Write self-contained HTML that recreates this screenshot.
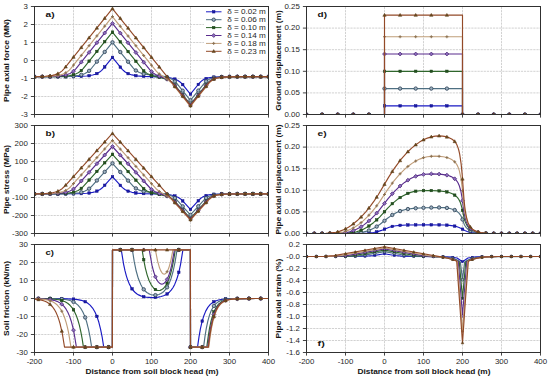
<!DOCTYPE html>
<html><head><meta charset="utf-8"><style>
*{margin:0;padding:0}
html,body{width:550px;height:379px;background:#fff;overflow:hidden}
svg{display:block}
text{font-family:"Liberation Sans",sans-serif}
.tx{fill:#262626}
.lb{font-weight:bold;fill:#141414}
.gr{stroke:#cdcdcd;stroke-width:0.9;stroke-dasharray:2.2,0.9}
.tk{stroke:#303030;stroke-width:0.9}
.fr{fill:none;stroke:#303030;stroke-width:1}
</style></head>
<body><svg width="550" height="379" viewBox="0 0 550 379">
<defs><clipPath id="ca"><rect x="34" y="6" width="235" height="109"/></clipPath><clipPath id="cb"><rect x="34" y="125" width="235" height="109"/></clipPath><clipPath id="cc"><rect x="34" y="244" width="235" height="109"/></clipPath><clipPath id="cd"><rect x="306" y="6" width="235" height="109"/></clipPath><clipPath id="ce"><rect x="306" y="125" width="235" height="109"/></clipPath><clipPath id="cf"><rect x="306" y="244" width="235" height="109"/></clipPath></defs>
<rect width="550" height="379" fill="#fff"/>
<line x1="73.5" y1="7" x2="73.5" y2="114" class="gr"/>
<line x1="112.5" y1="7" x2="112.5" y2="114" class="gr"/>
<line x1="151.5" y1="7" x2="151.5" y2="114" class="gr"/>
<line x1="190.5" y1="7" x2="190.5" y2="114" class="gr"/>
<line x1="229.5" y1="7" x2="229.5" y2="114" class="gr"/>
<line x1="35" y1="24.5" x2="268" y2="24.5" class="gr"/>
<line x1="35" y1="42.5" x2="268" y2="42.5" class="gr"/>
<line x1="35" y1="60.5" x2="268" y2="60.5" class="gr"/>
<line x1="35" y1="78.5" x2="268" y2="78.5" class="gr"/>
<line x1="35" y1="96.5" x2="268" y2="96.5" class="gr"/>
<line x1="73.5" y1="126" x2="73.5" y2="233" class="gr"/>
<line x1="112.5" y1="126" x2="112.5" y2="233" class="gr"/>
<line x1="151.5" y1="126" x2="151.5" y2="233" class="gr"/>
<line x1="190.5" y1="126" x2="190.5" y2="233" class="gr"/>
<line x1="229.5" y1="126" x2="229.5" y2="233" class="gr"/>
<line x1="35" y1="143.5" x2="268" y2="143.5" class="gr"/>
<line x1="35" y1="161.5" x2="268" y2="161.5" class="gr"/>
<line x1="35" y1="179.5" x2="268" y2="179.5" class="gr"/>
<line x1="35" y1="197.5" x2="268" y2="197.5" class="gr"/>
<line x1="35" y1="215.5" x2="268" y2="215.5" class="gr"/>
<line x1="73.5" y1="245" x2="73.5" y2="352" class="gr"/>
<line x1="112.5" y1="245" x2="112.5" y2="352" class="gr"/>
<line x1="151.5" y1="245" x2="151.5" y2="352" class="gr"/>
<line x1="190.5" y1="245" x2="190.5" y2="352" class="gr"/>
<line x1="229.5" y1="245" x2="229.5" y2="352" class="gr"/>
<line x1="35" y1="262.5" x2="268" y2="262.5" class="gr"/>
<line x1="35" y1="280.5" x2="268" y2="280.5" class="gr"/>
<line x1="35" y1="298.5" x2="268" y2="298.5" class="gr"/>
<line x1="35" y1="316.5" x2="268" y2="316.5" class="gr"/>
<line x1="35" y1="334.5" x2="268" y2="334.5" class="gr"/>
<line x1="345.5" y1="7" x2="345.5" y2="114" class="gr"/>
<line x1="384.5" y1="7" x2="384.5" y2="114" class="gr"/>
<line x1="423.5" y1="7" x2="423.5" y2="114" class="gr"/>
<line x1="462.5" y1="7" x2="462.5" y2="114" class="gr"/>
<line x1="501.5" y1="7" x2="501.5" y2="114" class="gr"/>
<line x1="307" y1="28.1" x2="540" y2="28.1" class="gr"/>
<line x1="307" y1="49.7" x2="540" y2="49.7" class="gr"/>
<line x1="307" y1="71.3" x2="540" y2="71.3" class="gr"/>
<line x1="307" y1="92.9" x2="540" y2="92.9" class="gr"/>
<line x1="345.5" y1="126" x2="345.5" y2="233" class="gr"/>
<line x1="384.5" y1="126" x2="384.5" y2="233" class="gr"/>
<line x1="423.5" y1="126" x2="423.5" y2="233" class="gr"/>
<line x1="462.5" y1="126" x2="462.5" y2="233" class="gr"/>
<line x1="501.5" y1="126" x2="501.5" y2="233" class="gr"/>
<line x1="307" y1="147.1" x2="540" y2="147.1" class="gr"/>
<line x1="307" y1="168.7" x2="540" y2="168.7" class="gr"/>
<line x1="307" y1="190.3" x2="540" y2="190.3" class="gr"/>
<line x1="307" y1="211.9" x2="540" y2="211.9" class="gr"/>
<line x1="345.5" y1="245" x2="345.5" y2="352" class="gr"/>
<line x1="384.5" y1="245" x2="384.5" y2="352" class="gr"/>
<line x1="423.5" y1="245" x2="423.5" y2="352" class="gr"/>
<line x1="462.5" y1="245" x2="462.5" y2="352" class="gr"/>
<line x1="501.5" y1="245" x2="501.5" y2="352" class="gr"/>
<line x1="307" y1="256.5" x2="540" y2="256.5" class="gr"/>
<line x1="307" y1="268.5" x2="540" y2="268.5" class="gr"/>
<line x1="307" y1="280.5" x2="540" y2="280.5" class="gr"/>
<line x1="307" y1="292.5" x2="540" y2="292.5" class="gr"/>
<line x1="307" y1="304.5" x2="540" y2="304.5" class="gr"/>
<line x1="307" y1="316.5" x2="540" y2="316.5" class="gr"/>
<line x1="307" y1="328.5" x2="540" y2="328.5" class="gr"/>
<line x1="307" y1="340.5" x2="540" y2="340.5" class="gr"/>
<g clip-path="url(#ca)">
<polyline points="34.5,76.7 78.08,76.5 86.66,76 92.71,75.01 95.24,74.25 97.58,73.24 99.63,72.03 101.48,70.58 103.53,68.43 112.4,57.38 122.45,69.65 124.88,71.78 127.71,73.45 131.9,74.92 137.17,75.83 143.7,76.32 164.47,77.08 169.83,77.72 174.12,78.77 177.92,80.48 181.04,82.83 182.7,84.6 190.4,94.19 199.28,83.26 200.84,81.62 202.49,80.31 204.25,79.3 206.2,78.5 208.44,77.88 213.71,77.11 221.5,76.75 268.5,76.64" fill="none" stroke="#1a1ac4" stroke-width="1.15" stroke-linejoin="round"/>
<rect x="33.25" y="75.45" width="2.5" height="2.5" fill="#1a1aa8" stroke="#10108a" stroke-width="0.5"/>
<rect x="41.05" y="75.45" width="2.5" height="2.5" fill="#1a1aa8" stroke="#10108a" stroke-width="0.5"/>
<rect x="48.85" y="75.45" width="2.5" height="2.5" fill="#1a1aa8" stroke="#10108a" stroke-width="0.5"/>
<rect x="56.65" y="75.44" width="2.5" height="2.5" fill="#1a1aa8" stroke="#10108a" stroke-width="0.5"/>
<rect x="64.45" y="75.42" width="2.5" height="2.5" fill="#1a1aa8" stroke="#10108a" stroke-width="0.5"/>
<rect x="72.25" y="75.35" width="2.5" height="2.5" fill="#1a1aa8" stroke="#10108a" stroke-width="0.5"/>
<rect x="80.05" y="75.13" width="2.5" height="2.5" fill="#1a1aa8" stroke="#10108a" stroke-width="0.5"/>
<rect x="87.85" y="74.45" width="2.5" height="2.5" fill="#1a1aa8" stroke="#10108a" stroke-width="0.5"/>
<rect x="95.65" y="72.32" width="2.5" height="2.5" fill="#1a1aa8" stroke="#10108a" stroke-width="0.5"/>
<rect x="103.45" y="65.73" width="2.5" height="2.5" fill="#1a1aa8" stroke="#10108a" stroke-width="0.5"/>
<rect x="111.25" y="56.13" width="2.5" height="2.5" fill="#1a1aa8" stroke="#10108a" stroke-width="0.5"/>
<rect x="119.05" y="65.85" width="2.5" height="2.5" fill="#1a1aa8" stroke="#10108a" stroke-width="0.5"/>
<rect x="126.85" y="72.38" width="2.5" height="2.5" fill="#1a1aa8" stroke="#10108a" stroke-width="0.5"/>
<rect x="134.65" y="74.42" width="2.5" height="2.5" fill="#1a1aa8" stroke="#10108a" stroke-width="0.5"/>
<rect x="142.45" y="75.07" width="2.5" height="2.5" fill="#1a1aa8" stroke="#10108a" stroke-width="0.5"/>
<rect x="150.25" y="75.31" width="2.5" height="2.5" fill="#1a1aa8" stroke="#10108a" stroke-width="0.5"/>
<rect x="158.05" y="75.54" width="2.5" height="2.5" fill="#1a1aa8" stroke="#10108a" stroke-width="0.5"/>
<rect x="165.85" y="76.08" width="2.5" height="2.5" fill="#1a1aa8" stroke="#10108a" stroke-width="0.5"/>
<rect x="173.65" y="77.8" width="2.5" height="2.5" fill="#1a1aa8" stroke="#10108a" stroke-width="0.5"/>
<rect x="181.45" y="83.35" width="2.5" height="2.5" fill="#1a1aa8" stroke="#10108a" stroke-width="0.5"/>
<rect x="189.25" y="92.94" width="2.5" height="2.5" fill="#1a1aa8" stroke="#10108a" stroke-width="0.5"/>
<rect x="197.05" y="83.22" width="2.5" height="2.5" fill="#1a1aa8" stroke="#10108a" stroke-width="0.5"/>
<rect x="204.85" y="77.29" width="2.5" height="2.5" fill="#1a1aa8" stroke="#10108a" stroke-width="0.5"/>
<rect x="212.65" y="75.84" width="2.5" height="2.5" fill="#1a1aa8" stroke="#10108a" stroke-width="0.5"/>
<rect x="220.45" y="75.5" width="2.5" height="2.5" fill="#1a1aa8" stroke="#10108a" stroke-width="0.5"/>
<rect x="228.25" y="75.42" width="2.5" height="2.5" fill="#1a1aa8" stroke="#10108a" stroke-width="0.5"/>
<rect x="236.05" y="75.4" width="2.5" height="2.5" fill="#1a1aa8" stroke="#10108a" stroke-width="0.5"/>
<rect x="243.85" y="75.39" width="2.5" height="2.5" fill="#1a1aa8" stroke="#10108a" stroke-width="0.5"/>
<rect x="251.65" y="75.39" width="2.5" height="2.5" fill="#1a1aa8" stroke="#10108a" stroke-width="0.5"/>
<rect x="259.45" y="75.39" width="2.5" height="2.5" fill="#1a1aa8" stroke="#10108a" stroke-width="0.5"/>
<rect x="267.25" y="75.39" width="2.5" height="2.5" fill="#1a1aa8" stroke="#10108a" stroke-width="0.5"/>
<polyline points="34.5,76.7 59.46,76.63 70.97,76.29 75.25,75.93 78.86,75.39 81.89,74.66 84.52,73.7 88.03,71.69 90.95,69.01 112.4,42.32 132.68,67.46 134.14,69.03 135.8,70.43 139.31,72.48 143.6,73.89 148.67,74.76 159.4,75.8 163.78,76.41 167.98,77.43 171.49,78.93 174.12,80.69 176.36,82.84 190.4,100.3 205.03,82.31 206.49,80.97 208.05,79.9 209.81,79 211.75,78.29 216.92,77.28 224.53,76.8 268.5,76.64" fill="none" stroke="#4e6f82" stroke-width="1.15" stroke-linejoin="round"/>
<circle cx="34.5" cy="76.7" r="1.7" fill="#9cb0c0" stroke="#34485c" stroke-width="0.9"/>
<circle cx="42.3" cy="76.7" r="1.7" fill="#9cb0c0" stroke="#34485c" stroke-width="0.9"/>
<circle cx="50.1" cy="76.68" r="1.7" fill="#9cb0c0" stroke="#34485c" stroke-width="0.9"/>
<circle cx="57.9" cy="76.64" r="1.7" fill="#9cb0c0" stroke="#34485c" stroke-width="0.9"/>
<circle cx="65.7" cy="76.51" r="1.7" fill="#9cb0c0" stroke="#34485c" stroke-width="0.9"/>
<circle cx="73.5" cy="76.11" r="1.7" fill="#9cb0c0" stroke="#34485c" stroke-width="0.9"/>
<circle cx="81.3" cy="74.83" r="1.7" fill="#9cb0c0" stroke="#34485c" stroke-width="0.9"/>
<circle cx="89.1" cy="70.84" r="1.7" fill="#9cb0c0" stroke="#34485c" stroke-width="0.9"/>
<circle cx="96.9" cy="61.64" r="1.7" fill="#9cb0c0" stroke="#34485c" stroke-width="0.9"/>
<circle cx="104.7" cy="51.92" r="1.7" fill="#9cb0c0" stroke="#34485c" stroke-width="0.9"/>
<circle cx="112.5" cy="42.32" r="1.7" fill="#9cb0c0" stroke="#34485c" stroke-width="0.9"/>
<circle cx="120.3" cy="52.04" r="1.7" fill="#9cb0c0" stroke="#34485c" stroke-width="0.9"/>
<circle cx="128.1" cy="61.76" r="1.7" fill="#9cb0c0" stroke="#34485c" stroke-width="0.9"/>
<circle cx="135.9" cy="70.51" r="1.7" fill="#9cb0c0" stroke="#34485c" stroke-width="0.9"/>
<circle cx="143.7" cy="73.91" r="1.7" fill="#9cb0c0" stroke="#34485c" stroke-width="0.9"/>
<circle cx="151.5" cy="75.07" r="1.7" fill="#9cb0c0" stroke="#34485c" stroke-width="0.9"/>
<circle cx="159.3" cy="75.78" r="1.7" fill="#9cb0c0" stroke="#34485c" stroke-width="0.9"/>
<circle cx="167.1" cy="77.17" r="1.7" fill="#9cb0c0" stroke="#34485c" stroke-width="0.9"/>
<circle cx="174.9" cy="81.36" r="1.7" fill="#9cb0c0" stroke="#34485c" stroke-width="0.9"/>
<circle cx="182.7" cy="90.7" r="1.7" fill="#9cb0c0" stroke="#34485c" stroke-width="0.9"/>
<circle cx="190.5" cy="100.3" r="1.7" fill="#9cb0c0" stroke="#34485c" stroke-width="0.9"/>
<circle cx="198.3" cy="90.58" r="1.7" fill="#9cb0c0" stroke="#34485c" stroke-width="0.9"/>
<circle cx="206.1" cy="81.3" r="1.7" fill="#9cb0c0" stroke="#34485c" stroke-width="0.9"/>
<circle cx="213.9" cy="77.76" r="1.7" fill="#9cb0c0" stroke="#34485c" stroke-width="0.9"/>
<circle cx="221.7" cy="76.91" r="1.7" fill="#9cb0c0" stroke="#34485c" stroke-width="0.9"/>
<circle cx="229.5" cy="76.7" r="1.7" fill="#9cb0c0" stroke="#34485c" stroke-width="0.9"/>
<circle cx="237.3" cy="76.65" r="1.7" fill="#9cb0c0" stroke="#34485c" stroke-width="0.9"/>
<circle cx="245.1" cy="76.64" r="1.7" fill="#9cb0c0" stroke="#34485c" stroke-width="0.9"/>
<circle cx="252.9" cy="76.64" r="1.7" fill="#9cb0c0" stroke="#34485c" stroke-width="0.9"/>
<circle cx="260.7" cy="76.64" r="1.7" fill="#9cb0c0" stroke="#34485c" stroke-width="0.9"/>
<circle cx="268.5" cy="76.64" r="1.7" fill="#9cb0c0" stroke="#34485c" stroke-width="0.9"/>
<polyline points="34.5,76.7 55.07,76.57 65.5,76.09 69.5,75.6 72.82,74.91 75.65,73.99 78.18,72.77 80.81,70.92 83.15,68.56 112.4,32.12 142.24,69.17 144.19,71.27 147.01,73.41 150.43,75.09 154.23,76.27 165.44,78.88 168.76,80.19 171.49,81.82 173.24,83.25 174.9,84.99 190.4,104.3 207.95,82.6 210.78,80.19 214.09,78.58 216.44,77.9 219.26,77.39 226.67,76.83 268.5,76.64" fill="none" stroke="#2f662c" stroke-width="1.15" stroke-linejoin="round"/>
<rect x="33.25" y="75.45" width="2.5" height="2.5" fill="#23501f" stroke="#1c4518" stroke-width="0.5"/>
<rect x="41.05" y="75.44" width="2.5" height="2.5" fill="#23501f" stroke="#1c4518" stroke-width="0.5"/>
<rect x="48.85" y="75.39" width="2.5" height="2.5" fill="#23501f" stroke="#1c4518" stroke-width="0.5"/>
<rect x="56.65" y="75.26" width="2.5" height="2.5" fill="#23501f" stroke="#1c4518" stroke-width="0.5"/>
<rect x="64.45" y="74.82" width="2.5" height="2.5" fill="#23501f" stroke="#1c4518" stroke-width="0.5"/>
<rect x="72.25" y="73.48" width="2.5" height="2.5" fill="#23501f" stroke="#1c4518" stroke-width="0.5"/>
<rect x="80.05" y="69.25" width="2.5" height="2.5" fill="#23501f" stroke="#1c4518" stroke-width="0.5"/>
<rect x="87.85" y="59.9" width="2.5" height="2.5" fill="#23501f" stroke="#1c4518" stroke-width="0.5"/>
<rect x="95.65" y="50.18" width="2.5" height="2.5" fill="#23501f" stroke="#1c4518" stroke-width="0.5"/>
<rect x="103.45" y="40.46" width="2.5" height="2.5" fill="#23501f" stroke="#1c4518" stroke-width="0.5"/>
<rect x="111.25" y="30.87" width="2.5" height="2.5" fill="#23501f" stroke="#1c4518" stroke-width="0.5"/>
<rect x="119.05" y="40.59" width="2.5" height="2.5" fill="#23501f" stroke="#1c4518" stroke-width="0.5"/>
<rect x="126.85" y="50.31" width="2.5" height="2.5" fill="#23501f" stroke="#1c4518" stroke-width="0.5"/>
<rect x="134.65" y="60.03" width="2.5" height="2.5" fill="#23501f" stroke="#1c4518" stroke-width="0.5"/>
<rect x="142.45" y="69.55" width="2.5" height="2.5" fill="#23501f" stroke="#1c4518" stroke-width="0.5"/>
<rect x="150.25" y="74.22" width="2.5" height="2.5" fill="#23501f" stroke="#1c4518" stroke-width="0.5"/>
<rect x="158.05" y="76.13" width="2.5" height="2.5" fill="#23501f" stroke="#1c4518" stroke-width="0.5"/>
<rect x="165.85" y="78.22" width="2.5" height="2.5" fill="#23501f" stroke="#1c4518" stroke-width="0.5"/>
<rect x="173.65" y="83.74" width="2.5" height="2.5" fill="#23501f" stroke="#1c4518" stroke-width="0.5"/>
<rect x="181.45" y="93.45" width="2.5" height="2.5" fill="#23501f" stroke="#1c4518" stroke-width="0.5"/>
<rect x="189.25" y="103.05" width="2.5" height="2.5" fill="#23501f" stroke="#1c4518" stroke-width="0.5"/>
<rect x="197.05" y="93.33" width="2.5" height="2.5" fill="#23501f" stroke="#1c4518" stroke-width="0.5"/>
<rect x="204.85" y="83.61" width="2.5" height="2.5" fill="#23501f" stroke="#1c4518" stroke-width="0.5"/>
<rect x="212.65" y="77.4" width="2.5" height="2.5" fill="#23501f" stroke="#1c4518" stroke-width="0.5"/>
<rect x="220.45" y="75.87" width="2.5" height="2.5" fill="#23501f" stroke="#1c4518" stroke-width="0.5"/>
<rect x="228.25" y="75.5" width="2.5" height="2.5" fill="#23501f" stroke="#1c4518" stroke-width="0.5"/>
<rect x="236.05" y="75.42" width="2.5" height="2.5" fill="#23501f" stroke="#1c4518" stroke-width="0.5"/>
<rect x="243.85" y="75.4" width="2.5" height="2.5" fill="#23501f" stroke="#1c4518" stroke-width="0.5"/>
<rect x="251.65" y="75.39" width="2.5" height="2.5" fill="#23501f" stroke="#1c4518" stroke-width="0.5"/>
<rect x="259.45" y="75.39" width="2.5" height="2.5" fill="#23501f" stroke="#1c4518" stroke-width="0.5"/>
<rect x="267.25" y="75.39" width="2.5" height="2.5" fill="#23501f" stroke="#1c4518" stroke-width="0.5"/>
<polyline points="34.5,76.7 51.27,76.5 60.63,75.88 64.24,75.29 67.26,74.5 69.99,73.41 72.33,72.05 74.38,70.42 76.23,68.45 112.4,23.38 150.53,70.64 152.87,72.73 155.5,74.44 158.42,75.83 167,79.25 169.54,80.66 171.78,82.34 174.22,84.86 190.4,105.03 208.54,82.61 211.27,80.26 214.58,78.61 216.92,77.92 219.65,77.42 227.06,76.84 238.18,76.67 268.5,76.64" fill="none" stroke="#5a2d8e" stroke-width="1.15" stroke-linejoin="round"/>
<path d="M34.5 74.75L36.45 76.7L34.5 78.65L32.55 76.7Z" fill="#8c6cbc" stroke="#43206e" stroke-width="0.7"/>
<path d="M42.3 74.71L44.25 76.66L42.3 78.61L40.35 76.66Z" fill="#8c6cbc" stroke="#43206e" stroke-width="0.7"/>
<path d="M50.1 74.59L52.05 76.54L50.1 78.49L48.15 76.54Z" fill="#8c6cbc" stroke="#43206e" stroke-width="0.7"/>
<path d="M57.9 74.2L59.85 76.15L57.9 78.1L55.95 76.15Z" fill="#8c6cbc" stroke="#43206e" stroke-width="0.7"/>
<path d="M65.7 73L67.65 74.95L65.7 76.9L63.75 74.95Z" fill="#8c6cbc" stroke="#43206e" stroke-width="0.7"/>
<path d="M73.5 69.23L75.45 71.18L73.5 73.13L71.55 71.18Z" fill="#8c6cbc" stroke="#43206e" stroke-width="0.7"/>
<path d="M81.3 60.19L83.25 62.14L81.3 64.09L79.35 62.14Z" fill="#8c6cbc" stroke="#43206e" stroke-width="0.7"/>
<path d="M89.1 50.47L91.05 52.42L89.1 54.37L87.15 52.42Z" fill="#8c6cbc" stroke="#43206e" stroke-width="0.7"/>
<path d="M96.9 40.75L98.85 42.7L96.9 44.65L94.95 42.7Z" fill="#8c6cbc" stroke="#43206e" stroke-width="0.7"/>
<path d="M104.7 31.03L106.65 32.98L104.7 34.93L102.75 32.98Z" fill="#8c6cbc" stroke="#43206e" stroke-width="0.7"/>
<path d="M112.5 21.43L114.45 23.38L112.5 25.33L110.55 23.38Z" fill="#8c6cbc" stroke="#43206e" stroke-width="0.7"/>
<path d="M120.3 31.15L122.25 33.1L120.3 35.05L118.35 33.1Z" fill="#8c6cbc" stroke="#43206e" stroke-width="0.7"/>
<path d="M128.1 40.87L130.05 42.82L128.1 44.77L126.15 42.82Z" fill="#8c6cbc" stroke="#43206e" stroke-width="0.7"/>
<path d="M135.9 50.59L137.85 52.54L135.9 54.49L133.95 52.54Z" fill="#8c6cbc" stroke="#43206e" stroke-width="0.7"/>
<path d="M143.7 60.31L145.65 62.26L143.7 64.21L141.75 62.26Z" fill="#8c6cbc" stroke="#43206e" stroke-width="0.7"/>
<path d="M151.5 69.64L153.45 71.59L151.5 73.54L149.55 71.59Z" fill="#8c6cbc" stroke="#43206e" stroke-width="0.7"/>
<path d="M159.3 74.24L161.25 76.19L159.3 78.14L157.35 76.19Z" fill="#8c6cbc" stroke="#43206e" stroke-width="0.7"/>
<path d="M167.1 77.34L169.05 79.29L167.1 81.24L165.15 79.29Z" fill="#8c6cbc" stroke="#43206e" stroke-width="0.7"/>
<path d="M174.9 83.76L176.85 85.71L174.9 87.66L172.95 85.71Z" fill="#8c6cbc" stroke="#43206e" stroke-width="0.7"/>
<path d="M182.7 93.48L184.65 95.43L182.7 97.38L180.75 95.43Z" fill="#8c6cbc" stroke="#43206e" stroke-width="0.7"/>
<path d="M190.5 103.08L192.45 105.03L190.5 106.98L188.55 105.03Z" fill="#8c6cbc" stroke="#43206e" stroke-width="0.7"/>
<path d="M198.3 93.36L200.25 95.31L198.3 97.26L196.35 95.31Z" fill="#8c6cbc" stroke="#43206e" stroke-width="0.7"/>
<path d="M206.1 83.64L208.05 85.59L206.1 87.54L204.15 85.59Z" fill="#8c6cbc" stroke="#43206e" stroke-width="0.7"/>
<path d="M213.9 76.92L215.85 78.87L213.9 80.82L211.95 78.87Z" fill="#8c6cbc" stroke="#43206e" stroke-width="0.7"/>
<path d="M221.7 75.22L223.65 77.17L221.7 79.12L219.75 77.17Z" fill="#8c6cbc" stroke="#43206e" stroke-width="0.7"/>
<path d="M229.5 74.82L231.45 76.77L229.5 78.72L227.55 76.77Z" fill="#8c6cbc" stroke="#43206e" stroke-width="0.7"/>
<path d="M237.3 74.72L239.25 76.67L237.3 78.62L235.35 76.67Z" fill="#8c6cbc" stroke="#43206e" stroke-width="0.7"/>
<path d="M245.1 74.7L247.05 76.65L245.1 78.6L243.15 76.65Z" fill="#8c6cbc" stroke="#43206e" stroke-width="0.7"/>
<path d="M252.9 74.69L254.85 76.64L252.9 78.59L250.95 76.64Z" fill="#8c6cbc" stroke="#43206e" stroke-width="0.7"/>
<path d="M260.7 74.69L262.65 76.64L260.7 78.59L258.75 76.64Z" fill="#8c6cbc" stroke="#43206e" stroke-width="0.7"/>
<path d="M268.5 74.69L270.45 76.64L268.5 78.59L266.55 76.64Z" fill="#8c6cbc" stroke="#43206e" stroke-width="0.7"/>
<polyline points="34.5,76.7 48.44,76.43 56.83,75.67 60.14,75 62.97,74.1 65.41,72.97 67.65,71.51 69.31,70.07 70.87,68.36 112.4,16.6 156.08,70.88 157.74,72.61 159.69,74.27 167.88,79.74 171.39,82.75 190.4,106.28 209.51,82.64 212.15,80.34 215.36,78.69 217.7,77.98 220.43,77.45 227.75,76.85 238.76,76.67 268.5,76.64" fill="none" stroke="#c09e7a" stroke-width="1.15" stroke-linejoin="round"/>
<path d="M33 76.7L36 76.7M34.5 75.2L34.5 78.2" stroke="#8a7050" stroke-width="1.0"/>
<path d="M40.8 76.61L43.8 76.61M42.3 75.11L42.3 78.11" stroke="#8a7050" stroke-width="1.0"/>
<path d="M48.6 76.34L51.6 76.34M50.1 74.84L50.1 77.84" stroke="#8a7050" stroke-width="1.0"/>
<path d="M56.4 75.49L59.4 75.49M57.9 73.99L57.9 76.99" stroke="#8a7050" stroke-width="1.0"/>
<path d="M64.2 72.81L67.2 72.81M65.7 71.31L65.7 74.31" stroke="#8a7050" stroke-width="1.0"/>
<path d="M72 65.08L75 65.08M73.5 63.58L73.5 66.58" stroke="#8a7050" stroke-width="1.0"/>
<path d="M79.8 55.36L82.8 55.36M81.3 53.86L81.3 56.86" stroke="#8a7050" stroke-width="1.0"/>
<path d="M87.6 45.64L90.6 45.64M89.1 44.14L89.1 47.14" stroke="#8a7050" stroke-width="1.0"/>
<path d="M95.4 35.92L98.4 35.92M96.9 34.42L96.9 37.42" stroke="#8a7050" stroke-width="1.0"/>
<path d="M103.2 26.2L106.2 26.2M104.7 24.7L104.7 27.7" stroke="#8a7050" stroke-width="1.0"/>
<path d="M111 16.6L114 16.6M112.5 15.1L112.5 18.1" stroke="#8a7050" stroke-width="1.0"/>
<path d="M118.8 26.32L121.8 26.32M120.3 24.82L120.3 27.82" stroke="#8a7050" stroke-width="1.0"/>
<path d="M126.6 36.04L129.6 36.04M128.1 34.54L128.1 37.54" stroke="#8a7050" stroke-width="1.0"/>
<path d="M134.4 45.76L137.4 45.76M135.9 44.26L135.9 47.26" stroke="#8a7050" stroke-width="1.0"/>
<path d="M142.2 55.48L145.2 55.48M143.7 53.98L143.7 56.98" stroke="#8a7050" stroke-width="1.0"/>
<path d="M150 65.2L153 65.2M151.5 63.7L151.5 66.7" stroke="#8a7050" stroke-width="1.0"/>
<path d="M157.8 73.96L160.8 73.96M159.3 72.46L159.3 75.46" stroke="#8a7050" stroke-width="1.0"/>
<path d="M165.6 79.19L168.6 79.19M167.1 77.69L167.1 80.69" stroke="#8a7050" stroke-width="1.0"/>
<path d="M173.4 86.96L176.4 86.96M174.9 85.46L174.9 88.46" stroke="#8a7050" stroke-width="1.0"/>
<path d="M181.2 96.68L184.2 96.68M182.7 95.18L182.7 98.18" stroke="#8a7050" stroke-width="1.0"/>
<path d="M189 106.28L192 106.28M190.5 104.78L190.5 107.78" stroke="#8a7050" stroke-width="1.0"/>
<path d="M196.8 96.56L199.8 96.56M198.3 95.06L198.3 98.06" stroke="#8a7050" stroke-width="1.0"/>
<path d="M204.6 86.84L207.6 86.84M206.1 85.34L206.1 88.34" stroke="#8a7050" stroke-width="1.0"/>
<path d="M212.4 79.33L215.4 79.33M213.9 77.83L213.9 80.83" stroke="#8a7050" stroke-width="1.0"/>
<path d="M220.2 77.28L223.2 77.28M221.7 75.78L221.7 78.78" stroke="#8a7050" stroke-width="1.0"/>
<path d="M228 76.79L231 76.79M229.5 75.29L229.5 78.29" stroke="#8a7050" stroke-width="1.0"/>
<path d="M235.8 76.68L238.8 76.68M237.3 75.18L237.3 78.18" stroke="#8a7050" stroke-width="1.0"/>
<path d="M243.6 76.65L246.6 76.65M245.1 75.15L245.1 78.15" stroke="#8a7050" stroke-width="1.0"/>
<path d="M251.4 76.64L254.4 76.64M252.9 75.14L252.9 78.14" stroke="#8a7050" stroke-width="1.0"/>
<path d="M259.2 76.64L262.2 76.64M260.7 75.14L260.7 78.14" stroke="#8a7050" stroke-width="1.0"/>
<path d="M267 76.64L270 76.64M268.5 75.14L268.5 78.14" stroke="#8a7050" stroke-width="1.0"/>
<polyline points="34.5,76.7 45.32,76.29 52.44,75.36 55.27,74.62 57.8,73.63 60.05,72.4 62.09,70.85 64.43,68.42 112.4,8.64 190.4,105.72 209.03,82.68 211.75,80.3 214.97,78.67 217.31,77.96 220.04,77.44 227.45,76.85 238.47,76.67 268.5,76.64" fill="none" stroke="#934a28" stroke-width="1.15" stroke-linejoin="round"/>
<path d="M34.5 74.95L36.16 77.92L32.84 77.92Z" fill="#6a4a1c" stroke="#5a3a18" stroke-width="0.5"/>
<path d="M42.3 74.73L43.96 77.7L40.64 77.7Z" fill="#6a4a1c" stroke="#5a3a18" stroke-width="0.5"/>
<path d="M50.1 74.03L51.76 77L48.44 77Z" fill="#6a4a1c" stroke="#5a3a18" stroke-width="0.5"/>
<path d="M57.9 71.83L59.56 74.81L56.24 74.81Z" fill="#6a4a1c" stroke="#5a3a18" stroke-width="0.5"/>
<path d="M65.7 65.09L67.36 68.07L64.04 68.07Z" fill="#6a4a1c" stroke="#5a3a18" stroke-width="0.5"/>
<path d="M73.5 55.37L75.16 58.35L71.84 58.35Z" fill="#6a4a1c" stroke="#5a3a18" stroke-width="0.5"/>
<path d="M81.3 45.65L82.96 48.63L79.64 48.63Z" fill="#6a4a1c" stroke="#5a3a18" stroke-width="0.5"/>
<path d="M89.1 35.93L90.76 38.91L87.44 38.91Z" fill="#6a4a1c" stroke="#5a3a18" stroke-width="0.5"/>
<path d="M96.9 26.21L98.56 29.19L95.24 29.19Z" fill="#6a4a1c" stroke="#5a3a18" stroke-width="0.5"/>
<path d="M104.7 16.49L106.36 19.47L103.04 19.47Z" fill="#6a4a1c" stroke="#5a3a18" stroke-width="0.5"/>
<path d="M112.5 6.89L114.16 9.87L110.84 9.87Z" fill="#6a4a1c" stroke="#5a3a18" stroke-width="0.5"/>
<path d="M120.3 16.61L121.96 19.59L118.64 19.59Z" fill="#6a4a1c" stroke="#5a3a18" stroke-width="0.5"/>
<path d="M128.1 26.33L129.76 29.31L126.44 29.31Z" fill="#6a4a1c" stroke="#5a3a18" stroke-width="0.5"/>
<path d="M135.9 36.05L137.56 39.03L134.24 39.03Z" fill="#6a4a1c" stroke="#5a3a18" stroke-width="0.5"/>
<path d="M143.7 45.77L145.36 48.75L142.04 48.75Z" fill="#6a4a1c" stroke="#5a3a18" stroke-width="0.5"/>
<path d="M151.5 55.49L153.16 58.47L149.84 58.47Z" fill="#6a4a1c" stroke="#5a3a18" stroke-width="0.5"/>
<path d="M159.3 65.21L160.96 68.19L157.64 68.19Z" fill="#6a4a1c" stroke="#5a3a18" stroke-width="0.5"/>
<path d="M167.1 74.93L168.76 77.91L165.44 77.91Z" fill="#6a4a1c" stroke="#5a3a18" stroke-width="0.5"/>
<path d="M174.9 84.65L176.56 87.63L173.24 87.63Z" fill="#6a4a1c" stroke="#5a3a18" stroke-width="0.5"/>
<path d="M182.7 94.37L184.36 97.35L181.04 97.35Z" fill="#6a4a1c" stroke="#5a3a18" stroke-width="0.5"/>
<path d="M190.5 103.97L192.16 106.95L188.84 106.95Z" fill="#6a4a1c" stroke="#5a3a18" stroke-width="0.5"/>
<path d="M198.3 94.25L199.96 97.23L196.64 97.23Z" fill="#6a4a1c" stroke="#5a3a18" stroke-width="0.5"/>
<path d="M206.1 84.53L207.76 87.51L204.44 87.51Z" fill="#6a4a1c" stroke="#5a3a18" stroke-width="0.5"/>
<path d="M213.9 77.36L215.56 80.34L212.24 80.34Z" fill="#6a4a1c" stroke="#5a3a18" stroke-width="0.5"/>
<path d="M221.7 75.48L223.36 78.46L220.04 78.46Z" fill="#6a4a1c" stroke="#5a3a18" stroke-width="0.5"/>
<path d="M229.5 75.03L231.16 78.01L227.84 78.01Z" fill="#6a4a1c" stroke="#5a3a18" stroke-width="0.5"/>
<path d="M237.3 74.92L238.96 77.9L235.64 77.9Z" fill="#6a4a1c" stroke="#5a3a18" stroke-width="0.5"/>
<path d="M245.1 74.9L246.76 77.87L243.44 77.87Z" fill="#6a4a1c" stroke="#5a3a18" stroke-width="0.5"/>
<path d="M252.9 74.89L254.56 77.87L251.24 77.87Z" fill="#6a4a1c" stroke="#5a3a18" stroke-width="0.5"/>
<path d="M260.7 74.89L262.36 77.86L259.04 77.86Z" fill="#6a4a1c" stroke="#5a3a18" stroke-width="0.5"/>
<path d="M268.5 74.89L270.16 77.86L266.84 77.86Z" fill="#6a4a1c" stroke="#5a3a18" stroke-width="0.5"/>
</g>
<g clip-path="url(#cb)">
<polyline points="34.5,193.9 78.08,193.72 86.66,193.28 92.71,192.4 95.24,191.72 97.58,190.83 99.63,189.75 101.48,188.46 103.53,186.55 112.4,176.73 122.45,187.64 124.88,189.53 127.71,191.01 131.9,192.32 137.17,193.13 143.7,193.56 164.47,194.24 169.83,194.81 174.12,195.74 177.92,197.26 181.04,199.34 182.7,200.92 190.4,209.45 199.28,199.73 200.84,198.27 202.49,197.11 204.25,196.21 208.44,194.94 213.71,194.27 221.5,193.95 268.5,193.85" fill="none" stroke="#1a1ac4" stroke-width="1.15" stroke-linejoin="round"/>
<rect x="33.25" y="192.65" width="2.5" height="2.5" fill="#1a1aa8" stroke="#10108a" stroke-width="0.5"/>
<rect x="41.05" y="192.65" width="2.5" height="2.5" fill="#1a1aa8" stroke="#10108a" stroke-width="0.5"/>
<rect x="48.85" y="192.65" width="2.5" height="2.5" fill="#1a1aa8" stroke="#10108a" stroke-width="0.5"/>
<rect x="56.65" y="192.64" width="2.5" height="2.5" fill="#1a1aa8" stroke="#10108a" stroke-width="0.5"/>
<rect x="64.45" y="192.62" width="2.5" height="2.5" fill="#1a1aa8" stroke="#10108a" stroke-width="0.5"/>
<rect x="72.25" y="192.56" width="2.5" height="2.5" fill="#1a1aa8" stroke="#10108a" stroke-width="0.5"/>
<rect x="80.05" y="192.37" width="2.5" height="2.5" fill="#1a1aa8" stroke="#10108a" stroke-width="0.5"/>
<rect x="87.85" y="191.76" width="2.5" height="2.5" fill="#1a1aa8" stroke="#10108a" stroke-width="0.5"/>
<rect x="95.65" y="189.87" width="2.5" height="2.5" fill="#1a1aa8" stroke="#10108a" stroke-width="0.5"/>
<rect x="103.45" y="184.01" width="2.5" height="2.5" fill="#1a1aa8" stroke="#10108a" stroke-width="0.5"/>
<rect x="111.25" y="175.48" width="2.5" height="2.5" fill="#1a1aa8" stroke="#10108a" stroke-width="0.5"/>
<rect x="119.05" y="184.12" width="2.5" height="2.5" fill="#1a1aa8" stroke="#10108a" stroke-width="0.5"/>
<rect x="126.85" y="189.92" width="2.5" height="2.5" fill="#1a1aa8" stroke="#10108a" stroke-width="0.5"/>
<rect x="134.65" y="191.74" width="2.5" height="2.5" fill="#1a1aa8" stroke="#10108a" stroke-width="0.5"/>
<rect x="142.45" y="192.31" width="2.5" height="2.5" fill="#1a1aa8" stroke="#10108a" stroke-width="0.5"/>
<rect x="150.25" y="192.53" width="2.5" height="2.5" fill="#1a1aa8" stroke="#10108a" stroke-width="0.5"/>
<rect x="158.05" y="192.73" width="2.5" height="2.5" fill="#1a1aa8" stroke="#10108a" stroke-width="0.5"/>
<rect x="165.85" y="193.21" width="2.5" height="2.5" fill="#1a1aa8" stroke="#10108a" stroke-width="0.5"/>
<rect x="173.65" y="194.74" width="2.5" height="2.5" fill="#1a1aa8" stroke="#10108a" stroke-width="0.5"/>
<rect x="181.45" y="199.67" width="2.5" height="2.5" fill="#1a1aa8" stroke="#10108a" stroke-width="0.5"/>
<rect x="189.25" y="208.2" width="2.5" height="2.5" fill="#1a1aa8" stroke="#10108a" stroke-width="0.5"/>
<rect x="197.05" y="199.56" width="2.5" height="2.5" fill="#1a1aa8" stroke="#10108a" stroke-width="0.5"/>
<rect x="204.85" y="194.28" width="2.5" height="2.5" fill="#1a1aa8" stroke="#10108a" stroke-width="0.5"/>
<rect x="212.65" y="193" width="2.5" height="2.5" fill="#1a1aa8" stroke="#10108a" stroke-width="0.5"/>
<rect x="220.45" y="192.69" width="2.5" height="2.5" fill="#1a1aa8" stroke="#10108a" stroke-width="0.5"/>
<rect x="228.25" y="192.62" width="2.5" height="2.5" fill="#1a1aa8" stroke="#10108a" stroke-width="0.5"/>
<rect x="236.05" y="192.6" width="2.5" height="2.5" fill="#1a1aa8" stroke="#10108a" stroke-width="0.5"/>
<rect x="243.85" y="192.6" width="2.5" height="2.5" fill="#1a1aa8" stroke="#10108a" stroke-width="0.5"/>
<rect x="251.65" y="192.6" width="2.5" height="2.5" fill="#1a1aa8" stroke="#10108a" stroke-width="0.5"/>
<rect x="259.45" y="192.6" width="2.5" height="2.5" fill="#1a1aa8" stroke="#10108a" stroke-width="0.5"/>
<rect x="267.25" y="192.6" width="2.5" height="2.5" fill="#1a1aa8" stroke="#10108a" stroke-width="0.5"/>
<polyline points="34.5,193.9 59.46,193.83 70.97,193.54 78.86,192.74 81.89,192.09 84.52,191.24 88.03,189.45 90.95,187.06 112.4,163.34 132.68,185.69 135.8,188.33 139.31,190.14 143.6,191.4 148.67,192.18 163.78,193.64 167.98,194.55 171.49,195.88 174.12,197.44 176.36,199.36 190.4,214.88 205.03,198.88 206.49,197.7 208.05,196.74 211.75,195.32 216.92,194.42 224.53,193.99 268.5,193.85" fill="none" stroke="#4e6f82" stroke-width="1.15" stroke-linejoin="round"/>
<circle cx="34.5" cy="193.9" r="1.7" fill="#9cb0c0" stroke="#34485c" stroke-width="0.9"/>
<circle cx="42.3" cy="193.9" r="1.7" fill="#9cb0c0" stroke="#34485c" stroke-width="0.9"/>
<circle cx="50.1" cy="193.88" r="1.7" fill="#9cb0c0" stroke="#34485c" stroke-width="0.9"/>
<circle cx="57.9" cy="193.85" r="1.7" fill="#9cb0c0" stroke="#34485c" stroke-width="0.9"/>
<circle cx="65.7" cy="193.73" r="1.7" fill="#9cb0c0" stroke="#34485c" stroke-width="0.9"/>
<circle cx="73.5" cy="193.37" r="1.7" fill="#9cb0c0" stroke="#34485c" stroke-width="0.9"/>
<circle cx="81.3" cy="192.24" r="1.7" fill="#9cb0c0" stroke="#34485c" stroke-width="0.9"/>
<circle cx="89.1" cy="188.69" r="1.7" fill="#9cb0c0" stroke="#34485c" stroke-width="0.9"/>
<circle cx="96.9" cy="180.51" r="1.7" fill="#9cb0c0" stroke="#34485c" stroke-width="0.9"/>
<circle cx="104.7" cy="171.87" r="1.7" fill="#9cb0c0" stroke="#34485c" stroke-width="0.9"/>
<circle cx="112.5" cy="163.34" r="1.7" fill="#9cb0c0" stroke="#34485c" stroke-width="0.9"/>
<circle cx="120.3" cy="171.98" r="1.7" fill="#9cb0c0" stroke="#34485c" stroke-width="0.9"/>
<circle cx="128.1" cy="180.62" r="1.7" fill="#9cb0c0" stroke="#34485c" stroke-width="0.9"/>
<circle cx="135.9" cy="188.39" r="1.7" fill="#9cb0c0" stroke="#34485c" stroke-width="0.9"/>
<circle cx="143.7" cy="191.42" r="1.7" fill="#9cb0c0" stroke="#34485c" stroke-width="0.9"/>
<circle cx="151.5" cy="192.45" r="1.7" fill="#9cb0c0" stroke="#34485c" stroke-width="0.9"/>
<circle cx="159.3" cy="193.09" r="1.7" fill="#9cb0c0" stroke="#34485c" stroke-width="0.9"/>
<circle cx="167.1" cy="194.31" r="1.7" fill="#9cb0c0" stroke="#34485c" stroke-width="0.9"/>
<circle cx="174.9" cy="198.04" r="1.7" fill="#9cb0c0" stroke="#34485c" stroke-width="0.9"/>
<circle cx="182.7" cy="206.35" r="1.7" fill="#9cb0c0" stroke="#34485c" stroke-width="0.9"/>
<circle cx="190.5" cy="214.88" r="1.7" fill="#9cb0c0" stroke="#34485c" stroke-width="0.9"/>
<circle cx="198.3" cy="206.24" r="1.7" fill="#9cb0c0" stroke="#34485c" stroke-width="0.9"/>
<circle cx="206.1" cy="197.98" r="1.7" fill="#9cb0c0" stroke="#34485c" stroke-width="0.9"/>
<circle cx="213.9" cy="194.84" r="1.7" fill="#9cb0c0" stroke="#34485c" stroke-width="0.9"/>
<circle cx="221.7" cy="194.08" r="1.7" fill="#9cb0c0" stroke="#34485c" stroke-width="0.9"/>
<circle cx="229.5" cy="193.9" r="1.7" fill="#9cb0c0" stroke="#34485c" stroke-width="0.9"/>
<circle cx="237.3" cy="193.86" r="1.7" fill="#9cb0c0" stroke="#34485c" stroke-width="0.9"/>
<circle cx="245.1" cy="193.85" r="1.7" fill="#9cb0c0" stroke="#34485c" stroke-width="0.9"/>
<circle cx="252.9" cy="193.85" r="1.7" fill="#9cb0c0" stroke="#34485c" stroke-width="0.9"/>
<circle cx="260.7" cy="193.85" r="1.7" fill="#9cb0c0" stroke="#34485c" stroke-width="0.9"/>
<circle cx="268.5" cy="193.85" r="1.7" fill="#9cb0c0" stroke="#34485c" stroke-width="0.9"/>
<polyline points="34.5,193.9 55.07,193.79 65.5,193.36 69.5,192.93 72.82,192.31 75.65,191.49 78.18,190.41 80.81,188.77 83.15,186.66 112.4,154.27 142.24,187.21 144.19,189.07 147.01,190.98 150.43,192.46 154.23,193.52 165.44,195.84 168.76,197.01 171.49,198.45 173.24,199.72 174.9,201.27 190.4,218.43 207.95,199.15 210.78,197.01 214.09,195.57 216.44,194.97 219.26,194.51 226.67,194.02 268.5,193.85" fill="none" stroke="#2f662c" stroke-width="1.15" stroke-linejoin="round"/>
<rect x="33.25" y="192.65" width="2.5" height="2.5" fill="#23501f" stroke="#1c4518" stroke-width="0.5"/>
<rect x="41.05" y="192.64" width="2.5" height="2.5" fill="#23501f" stroke="#1c4518" stroke-width="0.5"/>
<rect x="48.85" y="192.6" width="2.5" height="2.5" fill="#23501f" stroke="#1c4518" stroke-width="0.5"/>
<rect x="56.65" y="192.48" width="2.5" height="2.5" fill="#23501f" stroke="#1c4518" stroke-width="0.5"/>
<rect x="64.45" y="192.09" width="2.5" height="2.5" fill="#23501f" stroke="#1c4518" stroke-width="0.5"/>
<rect x="72.25" y="190.9" width="2.5" height="2.5" fill="#23501f" stroke="#1c4518" stroke-width="0.5"/>
<rect x="80.05" y="187.13" width="2.5" height="2.5" fill="#23501f" stroke="#1c4518" stroke-width="0.5"/>
<rect x="87.85" y="178.83" width="2.5" height="2.5" fill="#23501f" stroke="#1c4518" stroke-width="0.5"/>
<rect x="95.65" y="170.19" width="2.5" height="2.5" fill="#23501f" stroke="#1c4518" stroke-width="0.5"/>
<rect x="103.45" y="161.55" width="2.5" height="2.5" fill="#23501f" stroke="#1c4518" stroke-width="0.5"/>
<rect x="111.25" y="153.02" width="2.5" height="2.5" fill="#23501f" stroke="#1c4518" stroke-width="0.5"/>
<rect x="119.05" y="161.66" width="2.5" height="2.5" fill="#23501f" stroke="#1c4518" stroke-width="0.5"/>
<rect x="126.85" y="170.3" width="2.5" height="2.5" fill="#23501f" stroke="#1c4518" stroke-width="0.5"/>
<rect x="134.65" y="178.94" width="2.5" height="2.5" fill="#23501f" stroke="#1c4518" stroke-width="0.5"/>
<rect x="142.45" y="187.4" width="2.5" height="2.5" fill="#23501f" stroke="#1c4518" stroke-width="0.5"/>
<rect x="150.25" y="191.56" width="2.5" height="2.5" fill="#23501f" stroke="#1c4518" stroke-width="0.5"/>
<rect x="158.05" y="193.25" width="2.5" height="2.5" fill="#23501f" stroke="#1c4518" stroke-width="0.5"/>
<rect x="165.85" y="195.11" width="2.5" height="2.5" fill="#23501f" stroke="#1c4518" stroke-width="0.5"/>
<rect x="173.65" y="200.02" width="2.5" height="2.5" fill="#23501f" stroke="#1c4518" stroke-width="0.5"/>
<rect x="181.45" y="208.65" width="2.5" height="2.5" fill="#23501f" stroke="#1c4518" stroke-width="0.5"/>
<rect x="189.25" y="217.18" width="2.5" height="2.5" fill="#23501f" stroke="#1c4518" stroke-width="0.5"/>
<rect x="197.05" y="208.54" width="2.5" height="2.5" fill="#23501f" stroke="#1c4518" stroke-width="0.5"/>
<rect x="204.85" y="199.9" width="2.5" height="2.5" fill="#23501f" stroke="#1c4518" stroke-width="0.5"/>
<rect x="212.65" y="194.38" width="2.5" height="2.5" fill="#23501f" stroke="#1c4518" stroke-width="0.5"/>
<rect x="220.45" y="193.02" width="2.5" height="2.5" fill="#23501f" stroke="#1c4518" stroke-width="0.5"/>
<rect x="228.25" y="192.7" width="2.5" height="2.5" fill="#23501f" stroke="#1c4518" stroke-width="0.5"/>
<rect x="236.05" y="192.62" width="2.5" height="2.5" fill="#23501f" stroke="#1c4518" stroke-width="0.5"/>
<rect x="243.85" y="192.6" width="2.5" height="2.5" fill="#23501f" stroke="#1c4518" stroke-width="0.5"/>
<rect x="251.65" y="192.6" width="2.5" height="2.5" fill="#23501f" stroke="#1c4518" stroke-width="0.5"/>
<rect x="259.45" y="192.6" width="2.5" height="2.5" fill="#23501f" stroke="#1c4518" stroke-width="0.5"/>
<rect x="267.25" y="192.6" width="2.5" height="2.5" fill="#23501f" stroke="#1c4518" stroke-width="0.5"/>
<polyline points="34.5,193.9 51.27,193.73 60.63,193.17 64.24,192.65 67.26,191.94 69.99,190.97 72.33,189.77 74.38,188.32 76.23,186.57 112.4,146.5 150.53,188.51 152.87,190.37 155.5,191.89 158.42,193.13 167,196.16 169.54,197.42 171.78,198.92 174.22,201.15 190.4,219.08 208.54,199.15 211.27,197.06 214.58,195.6 219.65,194.54 227.06,194.02 268.5,193.85" fill="none" stroke="#5a2d8e" stroke-width="1.15" stroke-linejoin="round"/>
<path d="M34.5 191.95L36.45 193.9L34.5 195.85L32.55 193.9Z" fill="#8c6cbc" stroke="#43206e" stroke-width="0.7"/>
<path d="M42.3 191.92L44.25 193.87L42.3 195.82L40.35 193.87Z" fill="#8c6cbc" stroke="#43206e" stroke-width="0.7"/>
<path d="M50.1 191.81L52.05 193.76L50.1 195.71L48.15 193.76Z" fill="#8c6cbc" stroke="#43206e" stroke-width="0.7"/>
<path d="M57.9 191.47L59.85 193.42L57.9 195.37L55.95 193.42Z" fill="#8c6cbc" stroke="#43206e" stroke-width="0.7"/>
<path d="M65.7 190.4L67.65 192.35L65.7 194.3L63.75 192.35Z" fill="#8c6cbc" stroke="#43206e" stroke-width="0.7"/>
<path d="M73.5 187.04L75.45 188.99L73.5 190.94L71.55 188.99Z" fill="#8c6cbc" stroke="#43206e" stroke-width="0.7"/>
<path d="M81.3 179.01L83.25 180.96L81.3 182.91L79.35 180.96Z" fill="#8c6cbc" stroke="#43206e" stroke-width="0.7"/>
<path d="M89.1 170.37L91.05 172.32L89.1 174.27L87.15 172.32Z" fill="#8c6cbc" stroke="#43206e" stroke-width="0.7"/>
<path d="M96.9 161.73L98.85 163.68L96.9 165.63L94.95 163.68Z" fill="#8c6cbc" stroke="#43206e" stroke-width="0.7"/>
<path d="M104.7 153.09L106.65 155.04L104.7 156.99L102.75 155.04Z" fill="#8c6cbc" stroke="#43206e" stroke-width="0.7"/>
<path d="M112.5 144.55L114.45 146.5L112.5 148.45L110.55 146.5Z" fill="#8c6cbc" stroke="#43206e" stroke-width="0.7"/>
<path d="M120.3 153.19L122.25 155.14L120.3 157.09L118.35 155.14Z" fill="#8c6cbc" stroke="#43206e" stroke-width="0.7"/>
<path d="M128.1 161.83L130.05 163.78L128.1 165.73L126.15 163.78Z" fill="#8c6cbc" stroke="#43206e" stroke-width="0.7"/>
<path d="M135.9 170.47L137.85 172.42L135.9 174.37L133.95 172.42Z" fill="#8c6cbc" stroke="#43206e" stroke-width="0.7"/>
<path d="M143.7 179.11L145.65 181.06L143.7 183.01L141.75 181.06Z" fill="#8c6cbc" stroke="#43206e" stroke-width="0.7"/>
<path d="M151.5 187.41L153.45 189.36L151.5 191.31L149.55 189.36Z" fill="#8c6cbc" stroke="#43206e" stroke-width="0.7"/>
<path d="M159.3 191.49L161.25 193.44L159.3 195.39L157.35 193.44Z" fill="#8c6cbc" stroke="#43206e" stroke-width="0.7"/>
<path d="M167.1 194.25L169.05 196.2L167.1 198.15L165.15 196.2Z" fill="#8c6cbc" stroke="#43206e" stroke-width="0.7"/>
<path d="M174.9 199.96L176.85 201.91L174.9 203.86L172.95 201.91Z" fill="#8c6cbc" stroke="#43206e" stroke-width="0.7"/>
<path d="M182.7 208.6L184.65 210.55L182.7 212.5L180.75 210.55Z" fill="#8c6cbc" stroke="#43206e" stroke-width="0.7"/>
<path d="M190.5 217.13L192.45 219.08L190.5 221.03L188.55 219.08Z" fill="#8c6cbc" stroke="#43206e" stroke-width="0.7"/>
<path d="M198.3 208.49L200.25 210.44L198.3 212.39L196.35 210.44Z" fill="#8c6cbc" stroke="#43206e" stroke-width="0.7"/>
<path d="M206.1 199.85L208.05 201.8L206.1 203.75L204.15 201.8Z" fill="#8c6cbc" stroke="#43206e" stroke-width="0.7"/>
<path d="M213.9 193.88L215.85 195.83L213.9 197.78L211.95 195.83Z" fill="#8c6cbc" stroke="#43206e" stroke-width="0.7"/>
<path d="M221.7 192.37L223.65 194.32L221.7 196.27L219.75 194.32Z" fill="#8c6cbc" stroke="#43206e" stroke-width="0.7"/>
<path d="M229.5 192.01L231.45 193.96L229.5 195.91L227.55 193.96Z" fill="#8c6cbc" stroke="#43206e" stroke-width="0.7"/>
<path d="M237.3 191.92L239.25 193.87L237.3 195.82L235.35 193.87Z" fill="#8c6cbc" stroke="#43206e" stroke-width="0.7"/>
<path d="M245.1 191.9L247.05 193.85L245.1 195.8L243.15 193.85Z" fill="#8c6cbc" stroke="#43206e" stroke-width="0.7"/>
<path d="M252.9 191.9L254.85 193.85L252.9 195.8L250.95 193.85Z" fill="#8c6cbc" stroke="#43206e" stroke-width="0.7"/>
<path d="M260.7 191.9L262.65 193.85L260.7 195.8L258.75 193.85Z" fill="#8c6cbc" stroke="#43206e" stroke-width="0.7"/>
<path d="M268.5 191.9L270.45 193.85L268.5 195.8L266.55 193.85Z" fill="#8c6cbc" stroke="#43206e" stroke-width="0.7"/>
<polyline points="34.5,193.9 48.44,193.66 56.83,192.98 60.14,192.39 62.97,191.59 65.41,190.59 67.65,189.28 69.31,188.01 70.87,186.48 112.4,140.48 156.08,188.73 159.69,191.74 167.88,196.6 171.39,199.28 190.4,220.19 209.51,199.18 212.15,197.14 215.36,195.67 217.7,195.04 220.43,194.57 227.75,194.04 268.5,193.85" fill="none" stroke="#c09e7a" stroke-width="1.15" stroke-linejoin="round"/>
<path d="M33 193.9L36 193.9M34.5 192.4L34.5 195.4" stroke="#8a7050" stroke-width="1.0"/>
<path d="M40.8 193.82L43.8 193.82M42.3 192.32L42.3 195.32" stroke="#8a7050" stroke-width="1.0"/>
<path d="M48.6 193.58L51.6 193.58M50.1 192.08L50.1 195.08" stroke="#8a7050" stroke-width="1.0"/>
<path d="M56.4 192.82L59.4 192.82M57.9 191.32L57.9 194.32" stroke="#8a7050" stroke-width="1.0"/>
<path d="M64.2 190.44L67.2 190.44M65.7 188.94L65.7 191.94" stroke="#8a7050" stroke-width="1.0"/>
<path d="M72 183.57L75 183.57M73.5 182.07L73.5 185.07" stroke="#8a7050" stroke-width="1.0"/>
<path d="M79.8 174.93L82.8 174.93M81.3 173.43L81.3 176.43" stroke="#8a7050" stroke-width="1.0"/>
<path d="M87.6 166.29L90.6 166.29M89.1 164.79L89.1 167.79" stroke="#8a7050" stroke-width="1.0"/>
<path d="M95.4 157.65L98.4 157.65M96.9 156.15L96.9 159.15" stroke="#8a7050" stroke-width="1.0"/>
<path d="M103.2 149.01L106.2 149.01M104.7 147.51L104.7 150.51" stroke="#8a7050" stroke-width="1.0"/>
<path d="M111 140.48L114 140.48M112.5 138.98L112.5 141.98" stroke="#8a7050" stroke-width="1.0"/>
<path d="M118.8 149.12L121.8 149.12M120.3 147.62L120.3 150.62" stroke="#8a7050" stroke-width="1.0"/>
<path d="M126.6 157.76L129.6 157.76M128.1 156.26L128.1 159.26" stroke="#8a7050" stroke-width="1.0"/>
<path d="M134.4 166.4L137.4 166.4M135.9 164.9L135.9 167.9" stroke="#8a7050" stroke-width="1.0"/>
<path d="M142.2 175.04L145.2 175.04M143.7 173.54L143.7 176.54" stroke="#8a7050" stroke-width="1.0"/>
<path d="M150 183.68L153 183.68M151.5 182.18L151.5 185.18" stroke="#8a7050" stroke-width="1.0"/>
<path d="M157.8 191.47L160.8 191.47M159.3 189.97L159.3 192.97" stroke="#8a7050" stroke-width="1.0"/>
<path d="M165.6 196.11L168.6 196.11M167.1 194.61L167.1 197.61" stroke="#8a7050" stroke-width="1.0"/>
<path d="M173.4 203.02L176.4 203.02M174.9 201.52L174.9 204.52" stroke="#8a7050" stroke-width="1.0"/>
<path d="M181.2 211.66L184.2 211.66M182.7 210.16L182.7 213.16" stroke="#8a7050" stroke-width="1.0"/>
<path d="M189 220.19L192 220.19M190.5 218.69L190.5 221.69" stroke="#8a7050" stroke-width="1.0"/>
<path d="M196.8 211.55L199.8 211.55M198.3 210.05L198.3 213.05" stroke="#8a7050" stroke-width="1.0"/>
<path d="M204.6 202.91L207.6 202.91M206.1 201.41L206.1 204.41" stroke="#8a7050" stroke-width="1.0"/>
<path d="M212.4 196.23L215.4 196.23M213.9 194.73L213.9 197.73" stroke="#8a7050" stroke-width="1.0"/>
<path d="M220.2 194.42L223.2 194.42M221.7 192.92L221.7 195.92" stroke="#8a7050" stroke-width="1.0"/>
<path d="M228 193.98L231 193.98M229.5 192.48L229.5 195.48" stroke="#8a7050" stroke-width="1.0"/>
<path d="M235.8 193.88L238.8 193.88M237.3 192.38L237.3 195.38" stroke="#8a7050" stroke-width="1.0"/>
<path d="M243.6 193.85L246.6 193.85M245.1 192.35L245.1 195.35" stroke="#8a7050" stroke-width="1.0"/>
<path d="M251.4 193.85L254.4 193.85M252.9 192.35L252.9 195.35" stroke="#8a7050" stroke-width="1.0"/>
<path d="M259.2 193.85L262.2 193.85M260.7 192.35L260.7 195.35" stroke="#8a7050" stroke-width="1.0"/>
<path d="M267 193.85L270 193.85M268.5 192.35L268.5 195.35" stroke="#8a7050" stroke-width="1.0"/>
<polyline points="34.5,193.9 45.32,193.54 52.44,192.71 55.27,192.05 57.8,191.17 60.05,190.07 62.09,188.7 64.43,186.54 112.4,133.4 190.4,219.7 209.03,199.22 211.75,197.1 214.97,195.65 217.31,195.02 220.04,194.56 227.45,194.03 268.5,193.85" fill="none" stroke="#934a28" stroke-width="1.15" stroke-linejoin="round"/>
<path d="M34.5 192.15L36.16 195.12L32.84 195.12Z" fill="#6a4a1c" stroke="#5a3a18" stroke-width="0.5"/>
<path d="M42.3 191.95L43.96 194.93L40.64 194.93Z" fill="#6a4a1c" stroke="#5a3a18" stroke-width="0.5"/>
<path d="M50.1 191.33L51.76 194.31L48.44 194.31Z" fill="#6a4a1c" stroke="#5a3a18" stroke-width="0.5"/>
<path d="M57.9 189.38L59.56 192.36L56.24 192.36Z" fill="#6a4a1c" stroke="#5a3a18" stroke-width="0.5"/>
<path d="M65.7 183.39L67.36 186.36L64.04 186.36Z" fill="#6a4a1c" stroke="#5a3a18" stroke-width="0.5"/>
<path d="M73.5 174.75L75.16 177.72L71.84 177.72Z" fill="#6a4a1c" stroke="#5a3a18" stroke-width="0.5"/>
<path d="M81.3 166.11L82.96 169.08L79.64 169.08Z" fill="#6a4a1c" stroke="#5a3a18" stroke-width="0.5"/>
<path d="M89.1 157.47L90.76 160.44L87.44 160.44Z" fill="#6a4a1c" stroke="#5a3a18" stroke-width="0.5"/>
<path d="M96.9 148.83L98.56 151.8L95.24 151.8Z" fill="#6a4a1c" stroke="#5a3a18" stroke-width="0.5"/>
<path d="M104.7 140.19L106.36 143.16L103.04 143.16Z" fill="#6a4a1c" stroke="#5a3a18" stroke-width="0.5"/>
<path d="M112.5 131.65L114.16 134.63L110.84 134.63Z" fill="#6a4a1c" stroke="#5a3a18" stroke-width="0.5"/>
<path d="M120.3 140.29L121.96 143.27L118.64 143.27Z" fill="#6a4a1c" stroke="#5a3a18" stroke-width="0.5"/>
<path d="M128.1 148.93L129.76 151.91L126.44 151.91Z" fill="#6a4a1c" stroke="#5a3a18" stroke-width="0.5"/>
<path d="M135.9 157.57L137.56 160.55L134.24 160.55Z" fill="#6a4a1c" stroke="#5a3a18" stroke-width="0.5"/>
<path d="M143.7 166.21L145.36 169.19L142.04 169.19Z" fill="#6a4a1c" stroke="#5a3a18" stroke-width="0.5"/>
<path d="M151.5 174.85L153.16 177.83L149.84 177.83Z" fill="#6a4a1c" stroke="#5a3a18" stroke-width="0.5"/>
<path d="M159.3 183.49L160.96 186.47L157.64 186.47Z" fill="#6a4a1c" stroke="#5a3a18" stroke-width="0.5"/>
<path d="M167.1 192.13L168.76 195.11L165.44 195.11Z" fill="#6a4a1c" stroke="#5a3a18" stroke-width="0.5"/>
<path d="M174.9 200.77L176.56 203.75L173.24 203.75Z" fill="#6a4a1c" stroke="#5a3a18" stroke-width="0.5"/>
<path d="M182.7 209.41L184.36 212.39L181.04 212.39Z" fill="#6a4a1c" stroke="#5a3a18" stroke-width="0.5"/>
<path d="M190.5 217.95L192.16 220.92L188.84 220.92Z" fill="#6a4a1c" stroke="#5a3a18" stroke-width="0.5"/>
<path d="M198.3 209.31L199.96 212.28L196.64 212.28Z" fill="#6a4a1c" stroke="#5a3a18" stroke-width="0.5"/>
<path d="M206.1 200.67L207.76 203.64L204.44 203.64Z" fill="#6a4a1c" stroke="#5a3a18" stroke-width="0.5"/>
<path d="M213.9 194.3L215.56 197.27L212.24 197.27Z" fill="#6a4a1c" stroke="#5a3a18" stroke-width="0.5"/>
<path d="M221.7 192.62L223.36 195.6L220.04 195.6Z" fill="#6a4a1c" stroke="#5a3a18" stroke-width="0.5"/>
<path d="M229.5 192.22L231.16 195.2L227.84 195.2Z" fill="#6a4a1c" stroke="#5a3a18" stroke-width="0.5"/>
<path d="M237.3 192.13L238.96 195.1L235.64 195.1Z" fill="#6a4a1c" stroke="#5a3a18" stroke-width="0.5"/>
<path d="M245.1 192.1L246.76 195.08L243.44 195.08Z" fill="#6a4a1c" stroke="#5a3a18" stroke-width="0.5"/>
<path d="M252.9 192.1L254.56 195.07L251.24 195.07Z" fill="#6a4a1c" stroke="#5a3a18" stroke-width="0.5"/>
<path d="M260.7 192.1L262.36 195.07L259.04 195.07Z" fill="#6a4a1c" stroke="#5a3a18" stroke-width="0.5"/>
<path d="M268.5 192.1L270.16 195.07L266.84 195.07Z" fill="#6a4a1c" stroke="#5a3a18" stroke-width="0.5"/>
</g>
<g clip-path="url(#cc)">
<polyline points="34.5,298.5 61.31,298.6 73.21,299.06 77.69,299.57 81.3,300.32 84.42,301.37 87.15,302.78 90.07,305.08 92.61,308.04 94.95,311.94 97,316.64 98.85,322.29 100.6,329.27 102.26,337.73 103.72,347.1 112.4,347.1 112.5,249.9 121.28,249.9 123.62,264.35 124.98,270.7 126.34,275.87 127.81,280.34 129.47,284.35 131.32,287.79 133.27,290.51 134.93,292.26 136.68,293.7 138.63,294.89 140.78,295.85 143.21,296.6 145.84,297.12 152.08,297.57 155.4,297.45 158.42,297.11 161.15,296.55 163.59,295.77 165.83,294.73 167.78,293.48 169.54,291.99 171.19,290.15 173.05,287.48 174.8,284.15 176.46,280.08 177.92,275.53 179.29,270.29 180.56,264.35 182.9,249.9 190.4,249.9 190.5,347.1 197.52,347.1 199.08,336.34 200.44,328.7 202,321.83 203.76,315.95 205.71,311.14 207.85,307.36 210.29,304.42 213.02,302.27 215.56,300.98 218.48,300.03 221.99,299.35 226.38,298.91 238.08,298.56 268.5,298.5" fill="none" stroke="#1a1ac4" stroke-width="1.15" stroke-linejoin="round"/>
<rect x="37.15" y="297.25" width="2.5" height="2.5" fill="#1a1aa8" stroke="#10108a" stroke-width="0.5"/>
<rect x="48.85" y="297.27" width="2.5" height="2.5" fill="#1a1aa8" stroke="#10108a" stroke-width="0.5"/>
<rect x="60.55" y="297.35" width="2.5" height="2.5" fill="#1a1aa8" stroke="#10108a" stroke-width="0.5"/>
<rect x="72.25" y="297.83" width="2.5" height="2.5" fill="#1a1aa8" stroke="#10108a" stroke-width="0.5"/>
<rect x="83.95" y="300.47" width="2.5" height="2.5" fill="#1a1aa8" stroke="#10108a" stroke-width="0.5"/>
<rect x="95.65" y="315.13" width="2.5" height="2.5" fill="#1a1aa8" stroke="#10108a" stroke-width="0.5"/>
<rect x="107.35" y="345.85" width="2.5" height="2.5" fill="#1a1aa8" stroke="#10108a" stroke-width="0.5"/>
<rect x="119.05" y="248.65" width="2.5" height="2.5" fill="#1a1aa8" stroke="#10108a" stroke-width="0.5"/>
<rect x="130.75" y="287.59" width="2.5" height="2.5" fill="#1a1aa8" stroke="#10108a" stroke-width="0.5"/>
<rect x="142.45" y="295.47" width="2.5" height="2.5" fill="#1a1aa8" stroke="#10108a" stroke-width="0.5"/>
<rect x="154.15" y="296.2" width="2.5" height="2.5" fill="#1a1aa8" stroke="#10108a" stroke-width="0.5"/>
<rect x="165.85" y="292.71" width="2.5" height="2.5" fill="#1a1aa8" stroke="#10108a" stroke-width="0.5"/>
<rect x="177.55" y="271.04" width="2.5" height="2.5" fill="#1a1aa8" stroke="#10108a" stroke-width="0.5"/>
<rect x="189.25" y="345.85" width="2.5" height="2.5" fill="#1a1aa8" stroke="#10108a" stroke-width="0.5"/>
<rect x="200.95" y="319.84" width="2.5" height="2.5" fill="#1a1aa8" stroke="#10108a" stroke-width="0.5"/>
<rect x="212.65" y="300.51" width="2.5" height="2.5" fill="#1a1aa8" stroke="#10108a" stroke-width="0.5"/>
<rect x="224.35" y="297.72" width="2.5" height="2.5" fill="#1a1aa8" stroke="#10108a" stroke-width="0.5"/>
<rect x="236.05" y="297.32" width="2.5" height="2.5" fill="#1a1aa8" stroke="#10108a" stroke-width="0.5"/>
<rect x="247.75" y="297.26" width="2.5" height="2.5" fill="#1a1aa8" stroke="#10108a" stroke-width="0.5"/>
<rect x="259.45" y="297.25" width="2.5" height="2.5" fill="#1a1aa8" stroke="#10108a" stroke-width="0.5"/>
<polyline points="34.5,298.51 53.02,298.67 62.87,299.22 66.68,299.75 69.89,300.51 72.62,301.5 75.06,302.78 77.98,305.08 80.52,308.04 82.86,311.94 84.91,316.64 86.76,322.29 88.52,329.27 90.17,337.73 91.63,347.1 112.4,347.1 112.5,249.9 132.39,249.9 134.24,261.67 136.19,271.01 138.34,278.54 140.78,284.57 142.14,287.08 143.6,289.23 145.16,291.02 146.82,292.47 148.57,293.6 150.53,294.45 152.57,294.97 154.72,295.14 156.86,294.96 158.91,294.44 160.86,293.58 162.62,292.45 164.27,290.98 165.83,289.18 167.2,287.18 168.56,284.69 171,278.71 173.15,271.25 175.09,261.99 177.04,249.9 190.4,249.9 190.5,347.1 203.56,347.1 205.03,336.18 206.29,328.38 207.76,321.36 209.42,315.37 211.17,310.73 213.22,306.91 215.56,303.98 218.19,301.88 220.53,300.7 223.16,299.86 226.38,299.25 230.28,298.87 240.91,298.55 268.5,298.5" fill="none" stroke="#4e6f82" stroke-width="1.15" stroke-linejoin="round"/>
<circle cx="38.4" cy="298.52" r="1.7" fill="#9cb0c0" stroke="#34485c" stroke-width="0.9"/>
<circle cx="50.1" cy="298.61" r="1.7" fill="#9cb0c0" stroke="#34485c" stroke-width="0.9"/>
<circle cx="61.8" cy="299.11" r="1.7" fill="#9cb0c0" stroke="#34485c" stroke-width="0.9"/>
<circle cx="73.5" cy="301.91" r="1.7" fill="#9cb0c0" stroke="#34485c" stroke-width="0.9"/>
<circle cx="85.2" cy="317.43" r="1.7" fill="#9cb0c0" stroke="#34485c" stroke-width="0.9"/>
<circle cx="96.9" cy="347.1" r="1.7" fill="#9cb0c0" stroke="#34485c" stroke-width="0.9"/>
<circle cx="108.6" cy="347.1" r="1.7" fill="#9cb0c0" stroke="#34485c" stroke-width="0.9"/>
<circle cx="120.3" cy="249.9" r="1.7" fill="#9cb0c0" stroke="#34485c" stroke-width="0.9"/>
<circle cx="132" cy="249.9" r="1.7" fill="#9cb0c0" stroke="#34485c" stroke-width="0.9"/>
<circle cx="143.7" cy="289.35" r="1.7" fill="#9cb0c0" stroke="#34485c" stroke-width="0.9"/>
<circle cx="155.4" cy="295.12" r="1.7" fill="#9cb0c0" stroke="#34485c" stroke-width="0.9"/>
<circle cx="167.1" cy="287.33" r="1.7" fill="#9cb0c0" stroke="#34485c" stroke-width="0.9"/>
<circle cx="178.8" cy="249.9" r="1.7" fill="#9cb0c0" stroke="#34485c" stroke-width="0.9"/>
<circle cx="190.5" cy="347.1" r="1.7" fill="#9cb0c0" stroke="#34485c" stroke-width="0.9"/>
<circle cx="202.2" cy="347.1" r="1.7" fill="#9cb0c0" stroke="#34485c" stroke-width="0.9"/>
<circle cx="213.9" cy="305.92" r="1.7" fill="#9cb0c0" stroke="#34485c" stroke-width="0.9"/>
<circle cx="225.6" cy="299.37" r="1.7" fill="#9cb0c0" stroke="#34485c" stroke-width="0.9"/>
<circle cx="237.3" cy="298.6" r="1.7" fill="#9cb0c0" stroke="#34485c" stroke-width="0.9"/>
<circle cx="249" cy="298.51" r="1.7" fill="#9cb0c0" stroke="#34485c" stroke-width="0.9"/>
<circle cx="260.7" cy="298.5" r="1.7" fill="#9cb0c0" stroke="#34485c" stroke-width="0.9"/>
<polyline points="34.5,298.54 49.81,298.85 54.68,299.22 58.68,299.79 62.19,300.66 65.11,301.81 67.65,303.3 69.99,305.27 72.23,307.9 74.28,311.19 76.13,315.15 77.79,319.72 79.35,325.17 80.81,331.55 82.18,338.86 83.44,347.1 112.4,347.1 112.5,249.9 142.14,249.9 143.8,260.23 145.36,268.05 147.11,274.85 149.06,280.46 151.21,284.84 153.55,287.97 154.81,289.1 156.08,289.88 157.35,290.35 158.72,290.52 160.08,290.35 161.35,289.88 162.62,289.1 163.88,287.97 166.22,284.84 168.37,280.46 170.32,274.85 172.07,268.05 173.63,260.23 175.29,249.9 190.4,249.9 190.5,347.1 206.78,347.1 208.25,336.1 209.51,328.31 210.97,321.31 212.63,315.34 214.39,310.71 216.44,306.89 218.78,303.97 221.41,301.87 223.65,300.74 226.28,299.88 229.4,299.28 233.2,298.89 243.44,298.56 268.5,298.5" fill="none" stroke="#2f662c" stroke-width="1.15" stroke-linejoin="round"/>
<rect x="37.15" y="297.32" width="2.5" height="2.5" fill="#23501f" stroke="#1c4518" stroke-width="0.5"/>
<rect x="48.85" y="297.62" width="2.5" height="2.5" fill="#23501f" stroke="#1c4518" stroke-width="0.5"/>
<rect x="60.55" y="299.29" width="2.5" height="2.5" fill="#23501f" stroke="#1c4518" stroke-width="0.5"/>
<rect x="72.25" y="308.57" width="2.5" height="2.5" fill="#23501f" stroke="#1c4518" stroke-width="0.5"/>
<rect x="83.95" y="345.85" width="2.5" height="2.5" fill="#23501f" stroke="#1c4518" stroke-width="0.5"/>
<rect x="95.65" y="345.85" width="2.5" height="2.5" fill="#23501f" stroke="#1c4518" stroke-width="0.5"/>
<rect x="107.35" y="345.85" width="2.5" height="2.5" fill="#23501f" stroke="#1c4518" stroke-width="0.5"/>
<rect x="119.05" y="248.65" width="2.5" height="2.5" fill="#23501f" stroke="#1c4518" stroke-width="0.5"/>
<rect x="130.75" y="248.65" width="2.5" height="2.5" fill="#23501f" stroke="#1c4518" stroke-width="0.5"/>
<rect x="142.45" y="258.43" width="2.5" height="2.5" fill="#23501f" stroke="#1c4518" stroke-width="0.5"/>
<rect x="154.15" y="288.25" width="2.5" height="2.5" fill="#23501f" stroke="#1c4518" stroke-width="0.5"/>
<rect x="165.85" y="281.99" width="2.5" height="2.5" fill="#23501f" stroke="#1c4518" stroke-width="0.5"/>
<rect x="177.55" y="248.65" width="2.5" height="2.5" fill="#23501f" stroke="#1c4518" stroke-width="0.5"/>
<rect x="189.25" y="345.85" width="2.5" height="2.5" fill="#23501f" stroke="#1c4518" stroke-width="0.5"/>
<rect x="200.95" y="345.85" width="2.5" height="2.5" fill="#23501f" stroke="#1c4518" stroke-width="0.5"/>
<rect x="212.65" y="310.6" width="2.5" height="2.5" fill="#23501f" stroke="#1c4518" stroke-width="0.5"/>
<rect x="224.35" y="298.82" width="2.5" height="2.5" fill="#23501f" stroke="#1c4518" stroke-width="0.5"/>
<rect x="236.05" y="297.43" width="2.5" height="2.5" fill="#23501f" stroke="#1c4518" stroke-width="0.5"/>
<rect x="247.75" y="297.27" width="2.5" height="2.5" fill="#23501f" stroke="#1c4518" stroke-width="0.5"/>
<rect x="259.45" y="297.25" width="2.5" height="2.5" fill="#23501f" stroke="#1c4518" stroke-width="0.5"/>
<polyline points="34.5,298.6 46.39,299.1 50.59,299.6 54,300.32 57.02,301.33 59.66,302.66 61.99,304.37 64.04,306.42 66.09,309.19 67.94,312.52 69.6,316.38 71.16,320.97 72.62,326.34 73.99,332.5 76.42,347.1 112.4,347.1 112.5,249.9 149.26,249.9 151.99,265.15 153.45,271.03 154.91,275.56 156.57,279.36 158.23,281.95 159.98,283.57 160.86,283.98 161.84,284.13 162.81,283.98 163.69,283.57 165.44,281.95 167.1,279.36 168.76,275.56 170.22,271.03 171.68,265.15 174.41,249.9 190.4,249.9 190.5,347.1 207.76,347.1 209.22,336.11 210.49,328.32 211.95,321.31 213.61,315.34 215.36,310.71 217.41,306.89 219.75,303.97 222.38,301.88 224.62,300.74 227.26,299.88 230.28,299.29 234.08,298.9 244.12,298.56 268.5,298.5" fill="none" stroke="#5a2d8e" stroke-width="1.15" stroke-linejoin="round"/>
<path d="M38.4 296.73L40.35 298.68L38.4 300.63L36.45 298.68Z" fill="#8c6cbc" stroke="#43206e" stroke-width="0.7"/>
<path d="M50.1 297.58L52.05 299.53L50.1 301.48L48.15 299.53Z" fill="#8c6cbc" stroke="#43206e" stroke-width="0.7"/>
<path d="M61.8 302.25L63.75 304.2L61.8 306.15L59.85 304.2Z" fill="#8c6cbc" stroke="#43206e" stroke-width="0.7"/>
<path d="M73.5 328.21L75.45 330.16L73.5 332.11L71.55 330.16Z" fill="#8c6cbc" stroke="#43206e" stroke-width="0.7"/>
<path d="M85.2 345.15L87.15 347.1L85.2 349.05L83.25 347.1Z" fill="#8c6cbc" stroke="#43206e" stroke-width="0.7"/>
<path d="M96.9 345.15L98.85 347.1L96.9 349.05L94.95 347.1Z" fill="#8c6cbc" stroke="#43206e" stroke-width="0.7"/>
<path d="M108.6 345.15L110.55 347.1L108.6 349.05L106.65 347.1Z" fill="#8c6cbc" stroke="#43206e" stroke-width="0.7"/>
<path d="M120.3 247.95L122.25 249.9L120.3 251.85L118.35 249.9Z" fill="#8c6cbc" stroke="#43206e" stroke-width="0.7"/>
<path d="M132 247.95L133.95 249.9L132 251.85L130.05 249.9Z" fill="#8c6cbc" stroke="#43206e" stroke-width="0.7"/>
<path d="M143.7 247.95L145.65 249.9L143.7 251.85L141.75 249.9Z" fill="#8c6cbc" stroke="#43206e" stroke-width="0.7"/>
<path d="M155.4 274.87L157.35 276.82L155.4 278.77L153.45 276.82Z" fill="#8c6cbc" stroke="#43206e" stroke-width="0.7"/>
<path d="M167.1 277.41L169.05 279.36L167.1 281.31L165.15 279.36Z" fill="#8c6cbc" stroke="#43206e" stroke-width="0.7"/>
<path d="M178.8 247.95L180.75 249.9L178.8 251.85L176.85 249.9Z" fill="#8c6cbc" stroke="#43206e" stroke-width="0.7"/>
<path d="M190.5 345.15L192.45 347.1L190.5 349.05L188.55 347.1Z" fill="#8c6cbc" stroke="#43206e" stroke-width="0.7"/>
<path d="M202.2 345.15L204.15 347.1L202.2 349.05L200.25 347.1Z" fill="#8c6cbc" stroke="#43206e" stroke-width="0.7"/>
<path d="M213.9 312.51L215.85 314.46L213.9 316.41L211.95 314.46Z" fill="#8c6cbc" stroke="#43206e" stroke-width="0.7"/>
<path d="M225.6 298.42L227.55 300.37L225.6 302.32L223.65 300.37Z" fill="#8c6cbc" stroke="#43206e" stroke-width="0.7"/>
<path d="M237.3 296.77L239.25 298.72L237.3 300.67L235.35 298.72Z" fill="#8c6cbc" stroke="#43206e" stroke-width="0.7"/>
<path d="M249 296.58L250.95 298.53L249 300.48L247.05 298.53Z" fill="#8c6cbc" stroke="#43206e" stroke-width="0.7"/>
<path d="M260.7 296.55L262.65 298.5L260.7 300.45L258.75 298.5Z" fill="#8c6cbc" stroke="#43206e" stroke-width="0.7"/>
<polyline points="34.5,298.73 43.96,299.43 47.47,300.05 50.39,300.89 53.12,302.06 55.46,303.51 57.51,305.27 59.46,307.51 61.31,310.31 62.97,313.56 64.53,317.43 65.99,321.95 67.36,327.15 68.62,332.99 70.97,347.1 112.4,347.1 112.5,249.9 155.4,249.9 157.55,260.86 159.59,268.04 160.67,270.6 161.84,272.57 163,273.72 164.18,274.1 165.34,273.72 166.52,272.57 167.69,270.6 168.76,268.04 170.81,260.86 172.95,249.9 190.4,249.9 190.5,347.1 208.83,347.07 210.1,337.01 211.46,328.49 212.92,321.44 214.58,315.44 216.34,310.78 218.39,306.94 220.72,304 223.36,301.9 225.6,300.75 228.13,299.92 231.16,299.31 234.86,298.91 244.81,298.57 268.5,298.5" fill="none" stroke="#c09e7a" stroke-width="1.15" stroke-linejoin="round"/>
<path d="M36.9 298.91L39.9 298.91M38.4 297.41L38.4 300.41" stroke="#8a7050" stroke-width="1.0"/>
<path d="M48.6 300.79L51.6 300.79M50.1 299.29L50.1 302.29" stroke="#8a7050" stroke-width="1.0"/>
<path d="M60.3 311.19L63.3 311.19M61.8 309.69L61.8 312.69" stroke="#8a7050" stroke-width="1.0"/>
<path d="M72 347.1L75 347.1M73.5 345.6L73.5 348.6" stroke="#8a7050" stroke-width="1.0"/>
<path d="M83.7 347.1L86.7 347.1M85.2 345.6L85.2 348.6" stroke="#8a7050" stroke-width="1.0"/>
<path d="M95.4 347.1L98.4 347.1M96.9 345.6L96.9 348.6" stroke="#8a7050" stroke-width="1.0"/>
<path d="M107.1 347.1L110.1 347.1M108.6 345.6L108.6 348.6" stroke="#8a7050" stroke-width="1.0"/>
<path d="M118.8 249.9L121.8 249.9M120.3 248.4L120.3 251.4" stroke="#8a7050" stroke-width="1.0"/>
<path d="M130.5 249.9L133.5 249.9M132 248.4L132 251.4" stroke="#8a7050" stroke-width="1.0"/>
<path d="M142.2 249.9L145.2 249.9M143.7 248.4L143.7 251.4" stroke="#8a7050" stroke-width="1.0"/>
<path d="M153.9 249.9L156.9 249.9M155.4 248.4L155.4 251.4" stroke="#8a7050" stroke-width="1.0"/>
<path d="M165.6 271.69L168.6 271.69M167.1 270.19L167.1 273.19" stroke="#8a7050" stroke-width="1.0"/>
<path d="M177.3 249.9L180.3 249.9M178.8 248.4L178.8 251.4" stroke="#8a7050" stroke-width="1.0"/>
<path d="M189 347.1L192 347.1M190.5 345.6L190.5 348.6" stroke="#8a7050" stroke-width="1.0"/>
<path d="M200.7 347.1L203.7 347.1M202.2 345.6L202.2 348.6" stroke="#8a7050" stroke-width="1.0"/>
<path d="M212.4 317.69L215.4 317.69M213.9 316.19L213.9 319.19" stroke="#8a7050" stroke-width="1.0"/>
<path d="M224.1 300.75L227.1 300.75M225.6 299.25L225.6 302.25" stroke="#8a7050" stroke-width="1.0"/>
<path d="M235.8 298.76L238.8 298.76M237.3 297.26L237.3 300.26" stroke="#8a7050" stroke-width="1.0"/>
<path d="M247.5 298.53L250.5 298.53M249 297.03L249 300.03" stroke="#8a7050" stroke-width="1.0"/>
<path d="M259.2 298.5L262.2 298.5M260.7 297L260.7 300" stroke="#8a7050" stroke-width="1.0"/>
<polyline points="34.5,299.1 38.3,299.54 41.52,300.17 44.25,300.99 46.69,302.06 48.93,303.44 50.88,305.08 52.64,307.01 54.29,309.34 55.95,312.33 57.41,315.63 58.78,319.42 60.05,323.69 62.39,333.99 64.53,347.1 112.4,347.1 112.5,249.9 190.4,249.9 190.5,347.1 208.34,347.1 209.71,336.59 210.97,328.7 212.44,321.6 214.09,315.56 215.85,310.87 217.9,307 220.24,304.04 222.87,301.92 225.11,300.77 227.65,299.93 230.67,299.32 234.47,298.91 244.51,298.56 268.5,298.5" fill="none" stroke="#934a28" stroke-width="1.15" stroke-linejoin="round"/>
<path d="M38.4 297.81L40.06 300.78L36.74 300.78Z" fill="#6a4a1c" stroke="#5a3a18" stroke-width="0.5"/>
<path d="M50.1 302.62L51.76 305.59L48.44 305.59Z" fill="#6a4a1c" stroke="#5a3a18" stroke-width="0.5"/>
<path d="M61.8 329.33L63.46 332.3L60.14 332.3Z" fill="#6a4a1c" stroke="#5a3a18" stroke-width="0.5"/>
<path d="M73.5 345.35L75.16 348.33L71.84 348.33Z" fill="#6a4a1c" stroke="#5a3a18" stroke-width="0.5"/>
<path d="M85.2 345.35L86.86 348.33L83.54 348.33Z" fill="#6a4a1c" stroke="#5a3a18" stroke-width="0.5"/>
<path d="M96.9 345.35L98.56 348.33L95.24 348.33Z" fill="#6a4a1c" stroke="#5a3a18" stroke-width="0.5"/>
<path d="M108.6 345.35L110.26 348.33L106.94 348.33Z" fill="#6a4a1c" stroke="#5a3a18" stroke-width="0.5"/>
<path d="M120.3 248.15L121.96 251.12L118.64 251.12Z" fill="#6a4a1c" stroke="#5a3a18" stroke-width="0.5"/>
<path d="M132 248.15L133.66 251.12L130.34 251.12Z" fill="#6a4a1c" stroke="#5a3a18" stroke-width="0.5"/>
<path d="M143.7 248.15L145.36 251.12L142.04 251.12Z" fill="#6a4a1c" stroke="#5a3a18" stroke-width="0.5"/>
<path d="M155.4 248.15L157.06 251.12L153.74 251.12Z" fill="#6a4a1c" stroke="#5a3a18" stroke-width="0.5"/>
<path d="M167.1 248.15L168.76 251.12L165.44 251.12Z" fill="#6a4a1c" stroke="#5a3a18" stroke-width="0.5"/>
<path d="M178.8 248.15L180.46 251.12L177.14 251.12Z" fill="#6a4a1c" stroke="#5a3a18" stroke-width="0.5"/>
<path d="M190.5 345.35L192.16 348.33L188.84 348.33Z" fill="#6a4a1c" stroke="#5a3a18" stroke-width="0.5"/>
<path d="M202.2 345.35L203.86 348.33L200.54 348.33Z" fill="#6a4a1c" stroke="#5a3a18" stroke-width="0.5"/>
<path d="M213.9 314.43L215.56 317.4L212.24 317.4Z" fill="#6a4a1c" stroke="#5a3a18" stroke-width="0.5"/>
<path d="M225.6 298.82L227.26 301.8L223.94 301.8Z" fill="#6a4a1c" stroke="#5a3a18" stroke-width="0.5"/>
<path d="M237.3 296.99L238.96 299.97L235.64 299.97Z" fill="#6a4a1c" stroke="#5a3a18" stroke-width="0.5"/>
<path d="M249 296.78L250.66 299.75L247.34 299.75Z" fill="#6a4a1c" stroke="#5a3a18" stroke-width="0.5"/>
<path d="M260.7 296.75L262.36 299.73L259.04 299.73Z" fill="#6a4a1c" stroke="#5a3a18" stroke-width="0.5"/>
</g>
<g clip-path="url(#cd)">
<polyline points="306.5,114.5 384.5,114.5 384.5,105.86 462.5,105.86 462.5,114.5 540.5,114.5" fill="none" stroke="#1a1ac4" stroke-width="1.15" stroke-linejoin="round"/>
<rect x="305.25" y="113.25" width="2.5" height="2.5" fill="#1a1aa8" stroke="#10108a" stroke-width="0.5"/>
<rect x="320.85" y="113.25" width="2.5" height="2.5" fill="#1a1aa8" stroke="#10108a" stroke-width="0.5"/>
<rect x="336.45" y="113.25" width="2.5" height="2.5" fill="#1a1aa8" stroke="#10108a" stroke-width="0.5"/>
<rect x="352.05" y="113.25" width="2.5" height="2.5" fill="#1a1aa8" stroke="#10108a" stroke-width="0.5"/>
<rect x="367.65" y="113.25" width="2.5" height="2.5" fill="#1a1aa8" stroke="#10108a" stroke-width="0.5"/>
<rect x="383.25" y="104.61" width="2.5" height="2.5" fill="#1a1aa8" stroke="#10108a" stroke-width="0.5"/>
<rect x="398.85" y="104.61" width="2.5" height="2.5" fill="#1a1aa8" stroke="#10108a" stroke-width="0.5"/>
<rect x="414.45" y="104.61" width="2.5" height="2.5" fill="#1a1aa8" stroke="#10108a" stroke-width="0.5"/>
<rect x="430.05" y="104.61" width="2.5" height="2.5" fill="#1a1aa8" stroke="#10108a" stroke-width="0.5"/>
<rect x="445.65" y="104.61" width="2.5" height="2.5" fill="#1a1aa8" stroke="#10108a" stroke-width="0.5"/>
<rect x="461.25" y="113.25" width="2.5" height="2.5" fill="#1a1aa8" stroke="#10108a" stroke-width="0.5"/>
<rect x="476.85" y="113.25" width="2.5" height="2.5" fill="#1a1aa8" stroke="#10108a" stroke-width="0.5"/>
<rect x="492.45" y="113.25" width="2.5" height="2.5" fill="#1a1aa8" stroke="#10108a" stroke-width="0.5"/>
<rect x="508.05" y="113.25" width="2.5" height="2.5" fill="#1a1aa8" stroke="#10108a" stroke-width="0.5"/>
<rect x="523.65" y="113.25" width="2.5" height="2.5" fill="#1a1aa8" stroke="#10108a" stroke-width="0.5"/>
<rect x="539.25" y="113.25" width="2.5" height="2.5" fill="#1a1aa8" stroke="#10108a" stroke-width="0.5"/>
<polyline points="306.5,114.5 384.5,114.5 384.5,88.58 462.5,88.58 462.5,114.5 540.5,114.5" fill="none" stroke="#4e6f82" stroke-width="1.15" stroke-linejoin="round"/>
<circle cx="306.5" cy="114.5" r="1.7" fill="#9cb0c0" stroke="#34485c" stroke-width="0.9"/>
<circle cx="322.1" cy="114.5" r="1.7" fill="#9cb0c0" stroke="#34485c" stroke-width="0.9"/>
<circle cx="337.7" cy="114.5" r="1.7" fill="#9cb0c0" stroke="#34485c" stroke-width="0.9"/>
<circle cx="353.3" cy="114.5" r="1.7" fill="#9cb0c0" stroke="#34485c" stroke-width="0.9"/>
<circle cx="368.9" cy="114.5" r="1.7" fill="#9cb0c0" stroke="#34485c" stroke-width="0.9"/>
<circle cx="384.5" cy="88.58" r="1.7" fill="#9cb0c0" stroke="#34485c" stroke-width="0.9"/>
<circle cx="400.1" cy="88.58" r="1.7" fill="#9cb0c0" stroke="#34485c" stroke-width="0.9"/>
<circle cx="415.7" cy="88.58" r="1.7" fill="#9cb0c0" stroke="#34485c" stroke-width="0.9"/>
<circle cx="431.3" cy="88.58" r="1.7" fill="#9cb0c0" stroke="#34485c" stroke-width="0.9"/>
<circle cx="446.9" cy="88.58" r="1.7" fill="#9cb0c0" stroke="#34485c" stroke-width="0.9"/>
<circle cx="462.5" cy="114.5" r="1.7" fill="#9cb0c0" stroke="#34485c" stroke-width="0.9"/>
<circle cx="478.1" cy="114.5" r="1.7" fill="#9cb0c0" stroke="#34485c" stroke-width="0.9"/>
<circle cx="493.7" cy="114.5" r="1.7" fill="#9cb0c0" stroke="#34485c" stroke-width="0.9"/>
<circle cx="509.3" cy="114.5" r="1.7" fill="#9cb0c0" stroke="#34485c" stroke-width="0.9"/>
<circle cx="524.9" cy="114.5" r="1.7" fill="#9cb0c0" stroke="#34485c" stroke-width="0.9"/>
<circle cx="540.5" cy="114.5" r="1.7" fill="#9cb0c0" stroke="#34485c" stroke-width="0.9"/>
<polyline points="306.5,114.5 384.5,114.5 384.5,71.3 462.5,71.3 462.5,114.5 540.5,114.5" fill="none" stroke="#2f662c" stroke-width="1.15" stroke-linejoin="round"/>
<rect x="305.25" y="113.25" width="2.5" height="2.5" fill="#23501f" stroke="#1c4518" stroke-width="0.5"/>
<rect x="320.85" y="113.25" width="2.5" height="2.5" fill="#23501f" stroke="#1c4518" stroke-width="0.5"/>
<rect x="336.45" y="113.25" width="2.5" height="2.5" fill="#23501f" stroke="#1c4518" stroke-width="0.5"/>
<rect x="352.05" y="113.25" width="2.5" height="2.5" fill="#23501f" stroke="#1c4518" stroke-width="0.5"/>
<rect x="367.65" y="113.25" width="2.5" height="2.5" fill="#23501f" stroke="#1c4518" stroke-width="0.5"/>
<rect x="383.25" y="70.05" width="2.5" height="2.5" fill="#23501f" stroke="#1c4518" stroke-width="0.5"/>
<rect x="398.85" y="70.05" width="2.5" height="2.5" fill="#23501f" stroke="#1c4518" stroke-width="0.5"/>
<rect x="414.45" y="70.05" width="2.5" height="2.5" fill="#23501f" stroke="#1c4518" stroke-width="0.5"/>
<rect x="430.05" y="70.05" width="2.5" height="2.5" fill="#23501f" stroke="#1c4518" stroke-width="0.5"/>
<rect x="445.65" y="70.05" width="2.5" height="2.5" fill="#23501f" stroke="#1c4518" stroke-width="0.5"/>
<rect x="461.25" y="113.25" width="2.5" height="2.5" fill="#23501f" stroke="#1c4518" stroke-width="0.5"/>
<rect x="476.85" y="113.25" width="2.5" height="2.5" fill="#23501f" stroke="#1c4518" stroke-width="0.5"/>
<rect x="492.45" y="113.25" width="2.5" height="2.5" fill="#23501f" stroke="#1c4518" stroke-width="0.5"/>
<rect x="508.05" y="113.25" width="2.5" height="2.5" fill="#23501f" stroke="#1c4518" stroke-width="0.5"/>
<rect x="523.65" y="113.25" width="2.5" height="2.5" fill="#23501f" stroke="#1c4518" stroke-width="0.5"/>
<rect x="539.25" y="113.25" width="2.5" height="2.5" fill="#23501f" stroke="#1c4518" stroke-width="0.5"/>
<polyline points="306.5,114.5 384.5,114.5 384.5,54.02 462.5,54.02 462.5,114.5 540.5,114.5" fill="none" stroke="#5a2d8e" stroke-width="1.15" stroke-linejoin="round"/>
<path d="M306.5 112.55L308.45 114.5L306.5 116.45L304.55 114.5Z" fill="#8c6cbc" stroke="#43206e" stroke-width="0.7"/>
<path d="M322.1 112.55L324.05 114.5L322.1 116.45L320.15 114.5Z" fill="#8c6cbc" stroke="#43206e" stroke-width="0.7"/>
<path d="M337.7 112.55L339.65 114.5L337.7 116.45L335.75 114.5Z" fill="#8c6cbc" stroke="#43206e" stroke-width="0.7"/>
<path d="M353.3 112.55L355.25 114.5L353.3 116.45L351.35 114.5Z" fill="#8c6cbc" stroke="#43206e" stroke-width="0.7"/>
<path d="M368.9 112.55L370.85 114.5L368.9 116.45L366.95 114.5Z" fill="#8c6cbc" stroke="#43206e" stroke-width="0.7"/>
<path d="M384.5 52.07L386.45 54.02L384.5 55.97L382.55 54.02Z" fill="#8c6cbc" stroke="#43206e" stroke-width="0.7"/>
<path d="M400.1 52.07L402.05 54.02L400.1 55.97L398.15 54.02Z" fill="#8c6cbc" stroke="#43206e" stroke-width="0.7"/>
<path d="M415.7 52.07L417.65 54.02L415.7 55.97L413.75 54.02Z" fill="#8c6cbc" stroke="#43206e" stroke-width="0.7"/>
<path d="M431.3 52.07L433.25 54.02L431.3 55.97L429.35 54.02Z" fill="#8c6cbc" stroke="#43206e" stroke-width="0.7"/>
<path d="M446.9 52.07L448.85 54.02L446.9 55.97L444.95 54.02Z" fill="#8c6cbc" stroke="#43206e" stroke-width="0.7"/>
<path d="M462.5 112.55L464.45 114.5L462.5 116.45L460.55 114.5Z" fill="#8c6cbc" stroke="#43206e" stroke-width="0.7"/>
<path d="M478.1 112.55L480.05 114.5L478.1 116.45L476.15 114.5Z" fill="#8c6cbc" stroke="#43206e" stroke-width="0.7"/>
<path d="M493.7 112.55L495.65 114.5L493.7 116.45L491.75 114.5Z" fill="#8c6cbc" stroke="#43206e" stroke-width="0.7"/>
<path d="M509.3 112.55L511.25 114.5L509.3 116.45L507.35 114.5Z" fill="#8c6cbc" stroke="#43206e" stroke-width="0.7"/>
<path d="M524.9 112.55L526.85 114.5L524.9 116.45L522.95 114.5Z" fill="#8c6cbc" stroke="#43206e" stroke-width="0.7"/>
<path d="M540.5 112.55L542.45 114.5L540.5 116.45L538.55 114.5Z" fill="#8c6cbc" stroke="#43206e" stroke-width="0.7"/>
<polyline points="306.5,114.5 384.5,114.5 384.5,36.74 462.5,36.74 462.5,114.5 540.5,114.5" fill="none" stroke="#c09e7a" stroke-width="1.15" stroke-linejoin="round"/>
<path d="M305 114.5L308 114.5M306.5 113L306.5 116" stroke="#8a7050" stroke-width="1.0"/>
<path d="M320.6 114.5L323.6 114.5M322.1 113L322.1 116" stroke="#8a7050" stroke-width="1.0"/>
<path d="M336.2 114.5L339.2 114.5M337.7 113L337.7 116" stroke="#8a7050" stroke-width="1.0"/>
<path d="M351.8 114.5L354.8 114.5M353.3 113L353.3 116" stroke="#8a7050" stroke-width="1.0"/>
<path d="M367.4 114.5L370.4 114.5M368.9 113L368.9 116" stroke="#8a7050" stroke-width="1.0"/>
<path d="M383 36.74L386 36.74M384.5 35.24L384.5 38.24" stroke="#8a7050" stroke-width="1.0"/>
<path d="M398.6 36.74L401.6 36.74M400.1 35.24L400.1 38.24" stroke="#8a7050" stroke-width="1.0"/>
<path d="M414.2 36.74L417.2 36.74M415.7 35.24L415.7 38.24" stroke="#8a7050" stroke-width="1.0"/>
<path d="M429.8 36.74L432.8 36.74M431.3 35.24L431.3 38.24" stroke="#8a7050" stroke-width="1.0"/>
<path d="M445.4 36.74L448.4 36.74M446.9 35.24L446.9 38.24" stroke="#8a7050" stroke-width="1.0"/>
<path d="M461 114.5L464 114.5M462.5 113L462.5 116" stroke="#8a7050" stroke-width="1.0"/>
<path d="M476.6 114.5L479.6 114.5M478.1 113L478.1 116" stroke="#8a7050" stroke-width="1.0"/>
<path d="M492.2 114.5L495.2 114.5M493.7 113L493.7 116" stroke="#8a7050" stroke-width="1.0"/>
<path d="M507.8 114.5L510.8 114.5M509.3 113L509.3 116" stroke="#8a7050" stroke-width="1.0"/>
<path d="M523.4 114.5L526.4 114.5M524.9 113L524.9 116" stroke="#8a7050" stroke-width="1.0"/>
<path d="M539 114.5L542 114.5M540.5 113L540.5 116" stroke="#8a7050" stroke-width="1.0"/>
<polyline points="306.5,114.5 384.5,114.5 384.5,15.14 462.5,15.14 462.5,114.5 540.5,114.5" fill="none" stroke="#934a28" stroke-width="1.15" stroke-linejoin="round"/>
<path d="M306.5 112.75L308.16 115.72L304.84 115.72Z" fill="#6a4a1c" stroke="#5a3a18" stroke-width="0.5"/>
<path d="M322.1 112.75L323.76 115.72L320.44 115.72Z" fill="#6a4a1c" stroke="#5a3a18" stroke-width="0.5"/>
<path d="M337.7 112.75L339.36 115.72L336.04 115.72Z" fill="#6a4a1c" stroke="#5a3a18" stroke-width="0.5"/>
<path d="M353.3 112.75L354.96 115.72L351.64 115.72Z" fill="#6a4a1c" stroke="#5a3a18" stroke-width="0.5"/>
<path d="M368.9 112.75L370.56 115.72L367.24 115.72Z" fill="#6a4a1c" stroke="#5a3a18" stroke-width="0.5"/>
<path d="M384.5 13.39L386.16 16.36L382.84 16.36Z" fill="#6a4a1c" stroke="#5a3a18" stroke-width="0.5"/>
<path d="M400.1 13.39L401.76 16.36L398.44 16.36Z" fill="#6a4a1c" stroke="#5a3a18" stroke-width="0.5"/>
<path d="M415.7 13.39L417.36 16.36L414.04 16.36Z" fill="#6a4a1c" stroke="#5a3a18" stroke-width="0.5"/>
<path d="M431.3 13.39L432.96 16.36L429.64 16.36Z" fill="#6a4a1c" stroke="#5a3a18" stroke-width="0.5"/>
<path d="M446.9 13.39L448.56 16.36L445.24 16.36Z" fill="#6a4a1c" stroke="#5a3a18" stroke-width="0.5"/>
<path d="M462.5 112.75L464.16 115.72L460.84 115.72Z" fill="#6a4a1c" stroke="#5a3a18" stroke-width="0.5"/>
<path d="M478.1 112.75L479.76 115.72L476.44 115.72Z" fill="#6a4a1c" stroke="#5a3a18" stroke-width="0.5"/>
<path d="M493.7 112.75L495.36 115.72L492.04 115.72Z" fill="#6a4a1c" stroke="#5a3a18" stroke-width="0.5"/>
<path d="M509.3 112.75L510.96 115.72L507.64 115.72Z" fill="#6a4a1c" stroke="#5a3a18" stroke-width="0.5"/>
<path d="M524.9 112.75L526.56 115.72L523.24 115.72Z" fill="#6a4a1c" stroke="#5a3a18" stroke-width="0.5"/>
<path d="M540.5 112.75L542.16 115.72L538.84 115.72Z" fill="#6a4a1c" stroke="#5a3a18" stroke-width="0.5"/>
</g>
<g clip-path="url(#ce)">
<polyline points="306.5,233.5 353.5,233.45 368.51,233.01 373.58,232.48 377.68,231.64 381.48,230.42 389.28,227.26 392.5,226.38 395.91,225.77 400.59,225.31 406.73,225.02 428.76,224.82 444.66,225.03 449.53,225.34 453.43,225.85 456.36,226.52 459.09,227.45 461.23,228.46 464.84,230.54 467.76,231.73 471.37,232.64 475.76,233.18 489.02,233.54 540.5,233.5" fill="none" stroke="#1a1ac4" stroke-width="1.15" stroke-linejoin="round"/>
<rect x="305.25" y="232.25" width="2.5" height="2.5" fill="#1a1aa8" stroke="#10108a" stroke-width="0.5"/>
<rect x="313.05" y="232.25" width="2.5" height="2.5" fill="#1a1aa8" stroke="#10108a" stroke-width="0.5"/>
<rect x="320.85" y="232.25" width="2.5" height="2.5" fill="#1a1aa8" stroke="#10108a" stroke-width="0.5"/>
<rect x="328.65" y="232.25" width="2.5" height="2.5" fill="#1a1aa8" stroke="#10108a" stroke-width="0.5"/>
<rect x="336.45" y="232.24" width="2.5" height="2.5" fill="#1a1aa8" stroke="#10108a" stroke-width="0.5"/>
<rect x="344.25" y="232.23" width="2.5" height="2.5" fill="#1a1aa8" stroke="#10108a" stroke-width="0.5"/>
<rect x="352.05" y="232.2" width="2.5" height="2.5" fill="#1a1aa8" stroke="#10108a" stroke-width="0.5"/>
<rect x="359.85" y="232.09" width="2.5" height="2.5" fill="#1a1aa8" stroke="#10108a" stroke-width="0.5"/>
<rect x="367.65" y="231.74" width="2.5" height="2.5" fill="#1a1aa8" stroke="#10108a" stroke-width="0.5"/>
<rect x="375.45" y="230.64" width="2.5" height="2.5" fill="#1a1aa8" stroke="#10108a" stroke-width="0.5"/>
<rect x="383.25" y="227.89" width="2.5" height="2.5" fill="#1a1aa8" stroke="#10108a" stroke-width="0.5"/>
<rect x="391.05" y="225.17" width="2.5" height="2.5" fill="#1a1aa8" stroke="#10108a" stroke-width="0.5"/>
<rect x="398.85" y="224.09" width="2.5" height="2.5" fill="#1a1aa8" stroke="#10108a" stroke-width="0.5"/>
<rect x="406.65" y="223.74" width="2.5" height="2.5" fill="#1a1aa8" stroke="#10108a" stroke-width="0.5"/>
<rect x="414.45" y="223.62" width="2.5" height="2.5" fill="#1a1aa8" stroke="#10108a" stroke-width="0.5"/>
<rect x="422.25" y="223.58" width="2.5" height="2.5" fill="#1a1aa8" stroke="#10108a" stroke-width="0.5"/>
<rect x="430.05" y="223.57" width="2.5" height="2.5" fill="#1a1aa8" stroke="#10108a" stroke-width="0.5"/>
<rect x="437.85" y="223.63" width="2.5" height="2.5" fill="#1a1aa8" stroke="#10108a" stroke-width="0.5"/>
<rect x="445.65" y="223.89" width="2.5" height="2.5" fill="#1a1aa8" stroke="#10108a" stroke-width="0.5"/>
<rect x="453.45" y="224.85" width="2.5" height="2.5" fill="#1a1aa8" stroke="#10108a" stroke-width="0.5"/>
<rect x="461.25" y="227.95" width="2.5" height="2.5" fill="#1a1aa8" stroke="#10108a" stroke-width="0.5"/>
<rect x="469.05" y="231.18" width="2.5" height="2.5" fill="#1a1aa8" stroke="#10108a" stroke-width="0.5"/>
<rect x="476.85" y="232.07" width="2.5" height="2.5" fill="#1a1aa8" stroke="#10108a" stroke-width="0.5"/>
<rect x="484.65" y="232.27" width="2.5" height="2.5" fill="#1a1aa8" stroke="#10108a" stroke-width="0.5"/>
<rect x="492.45" y="232.3" width="2.5" height="2.5" fill="#1a1aa8" stroke="#10108a" stroke-width="0.5"/>
<rect x="500.25" y="232.3" width="2.5" height="2.5" fill="#1a1aa8" stroke="#10108a" stroke-width="0.5"/>
<rect x="508.05" y="232.29" width="2.5" height="2.5" fill="#1a1aa8" stroke="#10108a" stroke-width="0.5"/>
<rect x="515.85" y="232.28" width="2.5" height="2.5" fill="#1a1aa8" stroke="#10108a" stroke-width="0.5"/>
<rect x="523.65" y="232.27" width="2.5" height="2.5" fill="#1a1aa8" stroke="#10108a" stroke-width="0.5"/>
<rect x="531.45" y="232.26" width="2.5" height="2.5" fill="#1a1aa8" stroke="#10108a" stroke-width="0.5"/>
<rect x="539.25" y="232.25" width="2.5" height="2.5" fill="#1a1aa8" stroke="#10108a" stroke-width="0.5"/>
<polyline points="306.5,233.5 348.72,233.34 357.2,232.93 363.15,232.14 366.07,231.43 369,230.44 374.75,227.73 380.11,224.26 387.52,218.28 391.62,215.39 396.59,212.58 401.47,210.58 406.63,209.27 413.36,208.42 424.48,207.78 437.25,207.49 444.07,207.68 449.04,208.27 453.33,209.45 456.75,211.16 458.99,213.08 460.75,215.49 462.01,218.15 464.16,224.14 465.13,226.01 466.3,227.66 467.86,229.21 469.62,230.42 471.86,231.47 474.39,232.26 479.66,233.1 487.75,233.47 540.5,233.5" fill="none" stroke="#4e6f82" stroke-width="1.15" stroke-linejoin="round"/>
<circle cx="306.5" cy="233.5" r="1.7" fill="#9cb0c0" stroke="#34485c" stroke-width="0.9"/>
<circle cx="314.3" cy="233.5" r="1.7" fill="#9cb0c0" stroke="#34485c" stroke-width="0.9"/>
<circle cx="322.1" cy="233.5" r="1.7" fill="#9cb0c0" stroke="#34485c" stroke-width="0.9"/>
<circle cx="329.9" cy="233.49" r="1.7" fill="#9cb0c0" stroke="#34485c" stroke-width="0.9"/>
<circle cx="337.7" cy="233.47" r="1.7" fill="#9cb0c0" stroke="#34485c" stroke-width="0.9"/>
<circle cx="345.5" cy="233.4" r="1.7" fill="#9cb0c0" stroke="#34485c" stroke-width="0.9"/>
<circle cx="353.3" cy="233.18" r="1.7" fill="#9cb0c0" stroke="#34485c" stroke-width="0.9"/>
<circle cx="361.1" cy="232.5" r="1.7" fill="#9cb0c0" stroke="#34485c" stroke-width="0.9"/>
<circle cx="368.9" cy="230.48" r="1.7" fill="#9cb0c0" stroke="#34485c" stroke-width="0.9"/>
<circle cx="376.7" cy="226.57" r="1.7" fill="#9cb0c0" stroke="#34485c" stroke-width="0.9"/>
<circle cx="384.5" cy="220.75" r="1.7" fill="#9cb0c0" stroke="#34485c" stroke-width="0.9"/>
<circle cx="392.3" cy="214.95" r="1.7" fill="#9cb0c0" stroke="#34485c" stroke-width="0.9"/>
<circle cx="400.1" cy="211.07" r="1.7" fill="#9cb0c0" stroke="#34485c" stroke-width="0.9"/>
<circle cx="407.9" cy="209.06" r="1.7" fill="#9cb0c0" stroke="#34485c" stroke-width="0.9"/>
<circle cx="415.7" cy="208.24" r="1.7" fill="#9cb0c0" stroke="#34485c" stroke-width="0.9"/>
<circle cx="423.5" cy="207.82" r="1.7" fill="#9cb0c0" stroke="#34485c" stroke-width="0.9"/>
<circle cx="431.3" cy="207.57" r="1.7" fill="#9cb0c0" stroke="#34485c" stroke-width="0.9"/>
<circle cx="439.1" cy="207.5" r="1.7" fill="#9cb0c0" stroke="#34485c" stroke-width="0.9"/>
<circle cx="446.9" cy="207.94" r="1.7" fill="#9cb0c0" stroke="#34485c" stroke-width="0.9"/>
<circle cx="454.7" cy="210.02" r="1.7" fill="#9cb0c0" stroke="#34485c" stroke-width="0.9"/>
<circle cx="462.5" cy="219.48" r="1.7" fill="#9cb0c0" stroke="#34485c" stroke-width="0.9"/>
<circle cx="470.3" cy="230.78" r="1.7" fill="#9cb0c0" stroke="#34485c" stroke-width="0.9"/>
<circle cx="478.1" cy="232.94" r="1.7" fill="#9cb0c0" stroke="#34485c" stroke-width="0.9"/>
<circle cx="485.9" cy="233.43" r="1.7" fill="#9cb0c0" stroke="#34485c" stroke-width="0.9"/>
<circle cx="493.7" cy="233.53" r="1.7" fill="#9cb0c0" stroke="#34485c" stroke-width="0.9"/>
<circle cx="501.5" cy="233.55" r="1.7" fill="#9cb0c0" stroke="#34485c" stroke-width="0.9"/>
<circle cx="509.3" cy="233.55" r="1.7" fill="#9cb0c0" stroke="#34485c" stroke-width="0.9"/>
<circle cx="517.1" cy="233.54" r="1.7" fill="#9cb0c0" stroke="#34485c" stroke-width="0.9"/>
<circle cx="524.9" cy="233.52" r="1.7" fill="#9cb0c0" stroke="#34485c" stroke-width="0.9"/>
<circle cx="532.7" cy="233.51" r="1.7" fill="#9cb0c0" stroke="#34485c" stroke-width="0.9"/>
<circle cx="540.5" cy="233.5" r="1.7" fill="#9cb0c0" stroke="#34485c" stroke-width="0.9"/>
<polyline points="306.5,233.5 333.41,233.45 345.31,233.16 353.4,232.38 356.42,231.76 359.44,230.84 362.95,229.4 366.46,227.56 369.97,225.32 373.48,222.67 379.62,217.08 387.72,208.18 392.01,203.92 397.18,199.59 402.25,196.19 407.9,193.39 410.73,192.37 413.56,191.62 419.6,190.79 428.08,190.52 438.71,190.85 446.12,191.76 449.04,192.5 451.77,193.51 454.12,194.74 456.06,196.17 457.53,197.65 458.7,199.26 459.77,201.24 460.65,203.37 462.01,208.09 464.25,218.71 465.23,221.75 466.4,224.37 467.86,226.64 469.72,228.56 471.96,230.1 474.59,231.32 477.32,232.18 480.25,232.77 488.24,233.4 500.52,233.54 540.5,233.5" fill="none" stroke="#2f662c" stroke-width="1.15" stroke-linejoin="round"/>
<rect x="305.25" y="232.25" width="2.5" height="2.5" fill="#23501f" stroke="#1c4518" stroke-width="0.5"/>
<rect x="313.05" y="232.25" width="2.5" height="2.5" fill="#23501f" stroke="#1c4518" stroke-width="0.5"/>
<rect x="320.85" y="232.24" width="2.5" height="2.5" fill="#23501f" stroke="#1c4518" stroke-width="0.5"/>
<rect x="328.65" y="232.22" width="2.5" height="2.5" fill="#23501f" stroke="#1c4518" stroke-width="0.5"/>
<rect x="336.45" y="232.14" width="2.5" height="2.5" fill="#23501f" stroke="#1c4518" stroke-width="0.5"/>
<rect x="344.25" y="231.9" width="2.5" height="2.5" fill="#23501f" stroke="#1c4518" stroke-width="0.5"/>
<rect x="352.05" y="231.15" width="2.5" height="2.5" fill="#23501f" stroke="#1c4518" stroke-width="0.5"/>
<rect x="359.85" y="228.96" width="2.5" height="2.5" fill="#23501f" stroke="#1c4518" stroke-width="0.5"/>
<rect x="367.65" y="224.8" width="2.5" height="2.5" fill="#23501f" stroke="#1c4518" stroke-width="0.5"/>
<rect x="375.45" y="218.65" width="2.5" height="2.5" fill="#23501f" stroke="#1c4518" stroke-width="0.5"/>
<rect x="383.25" y="210.51" width="2.5" height="2.5" fill="#23501f" stroke="#1c4518" stroke-width="0.5"/>
<rect x="391.05" y="202.4" width="2.5" height="2.5" fill="#23501f" stroke="#1c4518" stroke-width="0.5"/>
<rect x="398.85" y="196.28" width="2.5" height="2.5" fill="#23501f" stroke="#1c4518" stroke-width="0.5"/>
<rect x="406.65" y="192.14" width="2.5" height="2.5" fill="#23501f" stroke="#1c4518" stroke-width="0.5"/>
<rect x="414.45" y="189.98" width="2.5" height="2.5" fill="#23501f" stroke="#1c4518" stroke-width="0.5"/>
<rect x="422.25" y="189.33" width="2.5" height="2.5" fill="#23501f" stroke="#1c4518" stroke-width="0.5"/>
<rect x="430.05" y="189.3" width="2.5" height="2.5" fill="#23501f" stroke="#1c4518" stroke-width="0.5"/>
<rect x="437.85" y="189.62" width="2.5" height="2.5" fill="#23501f" stroke="#1c4518" stroke-width="0.5"/>
<rect x="445.65" y="190.67" width="2.5" height="2.5" fill="#23501f" stroke="#1c4518" stroke-width="0.5"/>
<rect x="453.45" y="193.87" width="2.5" height="2.5" fill="#23501f" stroke="#1c4518" stroke-width="0.5"/>
<rect x="461.25" y="209.11" width="2.5" height="2.5" fill="#23501f" stroke="#1c4518" stroke-width="0.5"/>
<rect x="469.05" y="227.77" width="2.5" height="2.5" fill="#23501f" stroke="#1c4518" stroke-width="0.5"/>
<rect x="476.85" y="231.12" width="2.5" height="2.5" fill="#23501f" stroke="#1c4518" stroke-width="0.5"/>
<rect x="484.65" y="232.05" width="2.5" height="2.5" fill="#23501f" stroke="#1c4518" stroke-width="0.5"/>
<rect x="492.45" y="232.26" width="2.5" height="2.5" fill="#23501f" stroke="#1c4518" stroke-width="0.5"/>
<rect x="500.25" y="232.3" width="2.5" height="2.5" fill="#23501f" stroke="#1c4518" stroke-width="0.5"/>
<rect x="508.05" y="232.3" width="2.5" height="2.5" fill="#23501f" stroke="#1c4518" stroke-width="0.5"/>
<rect x="515.85" y="232.29" width="2.5" height="2.5" fill="#23501f" stroke="#1c4518" stroke-width="0.5"/>
<rect x="523.65" y="232.27" width="2.5" height="2.5" fill="#23501f" stroke="#1c4518" stroke-width="0.5"/>
<rect x="531.45" y="232.26" width="2.5" height="2.5" fill="#23501f" stroke="#1c4518" stroke-width="0.5"/>
<rect x="539.25" y="232.25" width="2.5" height="2.5" fill="#23501f" stroke="#1c4518" stroke-width="0.5"/>
<polyline points="306.5,233.5 330.68,233.4 341.99,232.94 346.18,232.45 349.6,231.76 353.01,230.7 356.42,229.28 360.32,227.19 364.22,224.61 368.12,221.56 372.12,217.92 375.63,214.3 379.04,210.41 388.11,198.68 393.08,192.85 398.83,187.1 404.59,182.4 407.9,180.17 411.22,178.29 414.53,176.77 417.75,175.62 420.87,174.82 424.18,174.3 432.67,173.88 441.73,174.32 445.24,174.82 448.26,175.56 451.09,176.61 453.53,177.93 455.48,179.49 457.04,181.3 458.21,183.22 459.19,185.39 460.84,191 462.11,197.94 464.06,212.55 464.94,217 466.01,220.93 467.28,224.12 468.84,226.72 470.69,228.71 473.03,230.32 475.76,231.53 478.98,232.44 482.39,232.98 486.88,233.32 499.36,233.54 540.5,233.5" fill="none" stroke="#5a2d8e" stroke-width="1.15" stroke-linejoin="round"/>
<path d="M306.5 231.55L308.45 233.5L306.5 235.45L304.55 233.5Z" fill="#8c6cbc" stroke="#43206e" stroke-width="0.7"/>
<path d="M314.3 231.55L316.25 233.5L314.3 235.45L312.35 233.5Z" fill="#8c6cbc" stroke="#43206e" stroke-width="0.7"/>
<path d="M322.1 231.53L324.05 233.48L322.1 235.43L320.15 233.48Z" fill="#8c6cbc" stroke="#43206e" stroke-width="0.7"/>
<path d="M329.9 231.47L331.85 233.42L329.9 235.37L327.95 233.42Z" fill="#8c6cbc" stroke="#43206e" stroke-width="0.7"/>
<path d="M337.7 231.26L339.65 233.21L337.7 235.16L335.75 233.21Z" fill="#8c6cbc" stroke="#43206e" stroke-width="0.7"/>
<path d="M345.5 230.6L347.45 232.55L345.5 234.5L343.55 232.55Z" fill="#8c6cbc" stroke="#43206e" stroke-width="0.7"/>
<path d="M353.3 228.65L355.25 230.6L353.3 232.55L351.35 230.6Z" fill="#8c6cbc" stroke="#43206e" stroke-width="0.7"/>
<path d="M361.1 224.76L363.05 226.71L361.1 228.66L359.15 226.71Z" fill="#8c6cbc" stroke="#43206e" stroke-width="0.7"/>
<path d="M368.9 218.94L370.85 220.89L368.9 222.84L366.95 220.89Z" fill="#8c6cbc" stroke="#43206e" stroke-width="0.7"/>
<path d="M376.7 211.17L378.65 213.12L376.7 215.07L374.75 213.12Z" fill="#8c6cbc" stroke="#43206e" stroke-width="0.7"/>
<path d="M384.5 201.45L386.45 203.4L384.5 205.35L382.55 203.4Z" fill="#8c6cbc" stroke="#43206e" stroke-width="0.7"/>
<path d="M392.3 191.77L394.25 193.72L392.3 195.67L390.35 193.72Z" fill="#8c6cbc" stroke="#43206e" stroke-width="0.7"/>
<path d="M400.1 184.02L402.05 185.97L400.1 187.92L398.15 185.97Z" fill="#8c6cbc" stroke="#43206e" stroke-width="0.7"/>
<path d="M407.9 178.22L409.85 180.17L407.9 182.12L405.95 180.17Z" fill="#8c6cbc" stroke="#43206e" stroke-width="0.7"/>
<path d="M415.7 174.36L417.65 176.31L415.7 178.26L413.75 176.31Z" fill="#8c6cbc" stroke="#43206e" stroke-width="0.7"/>
<path d="M423.5 172.44L425.45 174.39L423.5 176.34L421.55 174.39Z" fill="#8c6cbc" stroke="#43206e" stroke-width="0.7"/>
<path d="M431.3 171.94L433.25 173.89L431.3 175.84L429.35 173.89Z" fill="#8c6cbc" stroke="#43206e" stroke-width="0.7"/>
<path d="M439.1 172.14L441.05 174.09L439.1 176.04L437.15 174.09Z" fill="#8c6cbc" stroke="#43206e" stroke-width="0.7"/>
<path d="M446.9 173.23L448.85 175.18L446.9 177.13L444.95 175.18Z" fill="#8c6cbc" stroke="#43206e" stroke-width="0.7"/>
<path d="M454.7 176.84L456.65 178.79L454.7 180.74L452.75 178.79Z" fill="#8c6cbc" stroke="#43206e" stroke-width="0.7"/>
<path d="M462.5 198.83L464.45 200.78L462.5 202.73L460.55 200.78Z" fill="#8c6cbc" stroke="#43206e" stroke-width="0.7"/>
<path d="M470.3 226.41L472.25 228.36L470.3 230.31L468.35 228.36Z" fill="#8c6cbc" stroke="#43206e" stroke-width="0.7"/>
<path d="M478.1 230.29L480.05 232.24L478.1 234.19L476.15 232.24Z" fill="#8c6cbc" stroke="#43206e" stroke-width="0.7"/>
<path d="M485.9 231.32L487.85 233.27L485.9 235.22L483.95 233.27Z" fill="#8c6cbc" stroke="#43206e" stroke-width="0.7"/>
<path d="M493.7 231.55L495.65 233.5L493.7 235.45L491.75 233.5Z" fill="#8c6cbc" stroke="#43206e" stroke-width="0.7"/>
<path d="M501.5 231.59L503.45 233.54L501.5 235.49L499.55 233.54Z" fill="#8c6cbc" stroke="#43206e" stroke-width="0.7"/>
<path d="M509.3 231.59L511.25 233.54L509.3 235.49L507.35 233.54Z" fill="#8c6cbc" stroke="#43206e" stroke-width="0.7"/>
<path d="M517.1 231.59L519.05 233.54L517.1 235.49L515.15 233.54Z" fill="#8c6cbc" stroke="#43206e" stroke-width="0.7"/>
<path d="M524.9 231.57L526.85 233.52L524.9 235.47L522.95 233.52Z" fill="#8c6cbc" stroke="#43206e" stroke-width="0.7"/>
<path d="M532.7 231.56L534.65 233.51L532.7 235.46L530.75 233.51Z" fill="#8c6cbc" stroke="#43206e" stroke-width="0.7"/>
<path d="M540.5 231.55L542.45 233.5L540.5 235.45L538.55 233.5Z" fill="#8c6cbc" stroke="#43206e" stroke-width="0.7"/>
<polyline points="306.5,233.5 328.54,233.35 334.58,233.09 339.26,232.65 343.26,231.95 346.96,230.87 350.67,229.33 354.47,227.28 358.66,224.48 362.86,221.1 367.05,217.14 371.24,212.6 374.94,208.12 378.65,203.18 388.4,188.54 393.57,181.47 399.71,174.19 405.85,168.16 409.46,165.19 413.07,162.65 416.68,160.54 420.28,158.85 423.79,157.62 427.3,156.79 431.01,156.33 435.2,156.17 439.49,156.33 443.39,156.78 446.61,157.49 449.63,158.54 452.17,159.84 454.31,161.45 455.97,163.29 457.43,165.66 458.5,168.14 459.38,170.87 460.94,178.17 462.11,186.89 464.06,206.58 464.94,212.53 465.81,216.93 466.99,221.1 468.45,224.55 470.2,227.18 472.44,229.27 475.18,230.84 478.49,232.05 482.1,232.8 486.58,233.24 499.06,233.53 540.5,233.5" fill="none" stroke="#c09e7a" stroke-width="1.15" stroke-linejoin="round"/>
<path d="M305 233.5L308 233.5M306.5 232L306.5 235" stroke="#8a7050" stroke-width="1.0"/>
<path d="M312.8 233.49L315.8 233.49M314.3 231.99L314.3 234.99" stroke="#8a7050" stroke-width="1.0"/>
<path d="M320.6 233.45L323.6 233.45M322.1 231.95L322.1 234.95" stroke="#8a7050" stroke-width="1.0"/>
<path d="M328.4 233.31L331.4 233.31M329.9 231.81L329.9 234.81" stroke="#8a7050" stroke-width="1.0"/>
<path d="M336.2 232.83L339.2 232.83M337.7 231.33L337.7 234.33" stroke="#8a7050" stroke-width="1.0"/>
<path d="M344 231.35L347 231.35M345.5 229.85L345.5 232.85" stroke="#8a7050" stroke-width="1.0"/>
<path d="M351.8 227.96L354.8 227.96M353.3 226.46L353.3 229.46" stroke="#8a7050" stroke-width="1.0"/>
<path d="M359.6 222.58L362.6 222.58M361.1 221.08L361.1 224.08" stroke="#8a7050" stroke-width="1.0"/>
<path d="M367.4 215.21L370.4 215.21M368.9 213.71L368.9 216.71" stroke="#8a7050" stroke-width="1.0"/>
<path d="M375.2 205.83L378.2 205.83M376.7 204.33L376.7 207.33" stroke="#8a7050" stroke-width="1.0"/>
<path d="M383 194.46L386 194.46M384.5 192.96L384.5 195.96" stroke="#8a7050" stroke-width="1.0"/>
<path d="M390.8 183.12L393.8 183.12M392.3 181.62L392.3 184.62" stroke="#8a7050" stroke-width="1.0"/>
<path d="M398.6 173.77L401.6 173.77M400.1 172.27L400.1 175.27" stroke="#8a7050" stroke-width="1.0"/>
<path d="M406.4 166.42L409.4 166.42M407.9 164.92L407.9 167.92" stroke="#8a7050" stroke-width="1.0"/>
<path d="M414.2 161.06L417.2 161.06M415.7 159.56L415.7 162.56" stroke="#8a7050" stroke-width="1.0"/>
<path d="M422 157.7L425 157.7M423.5 156.2L423.5 159.2" stroke="#8a7050" stroke-width="1.0"/>
<path d="M429.8 156.31L432.8 156.31M431.3 154.81L431.3 157.81" stroke="#8a7050" stroke-width="1.0"/>
<path d="M437.6 156.3L440.6 156.3M439.1 154.8L439.1 157.8" stroke="#8a7050" stroke-width="1.0"/>
<path d="M445.4 157.57L448.4 157.57M446.9 156.07L446.9 159.07" stroke="#8a7050" stroke-width="1.0"/>
<path d="M453.2 161.83L456.2 161.83M454.7 160.33L454.7 163.33" stroke="#8a7050" stroke-width="1.0"/>
<path d="M461 190.7L464 190.7M462.5 189.2L462.5 192.2" stroke="#8a7050" stroke-width="1.0"/>
<path d="M468.8 227.3L471.8 227.3M470.3 225.8L470.3 228.8" stroke="#8a7050" stroke-width="1.0"/>
<path d="M476.6 231.93L479.6 231.93M478.1 230.43L478.1 233.43" stroke="#8a7050" stroke-width="1.0"/>
<path d="M484.4 233.2L487.4 233.2M485.9 231.7L485.9 234.7" stroke="#8a7050" stroke-width="1.0"/>
<path d="M492.2 233.48L495.2 233.48M493.7 231.98L493.7 234.98" stroke="#8a7050" stroke-width="1.0"/>
<path d="M500 233.54L503 233.54M501.5 232.04L501.5 235.04" stroke="#8a7050" stroke-width="1.0"/>
<path d="M507.8 233.54L510.8 233.54M509.3 232.04L509.3 235.04" stroke="#8a7050" stroke-width="1.0"/>
<path d="M515.6 233.54L518.6 233.54M517.1 232.04L517.1 235.04" stroke="#8a7050" stroke-width="1.0"/>
<path d="M523.4 233.52L526.4 233.52M524.9 232.02L524.9 235.02" stroke="#8a7050" stroke-width="1.0"/>
<path d="M531.2 233.51L534.2 233.51M532.7 232.01L532.7 235.01" stroke="#8a7050" stroke-width="1.0"/>
<path d="M539 233.5L542 233.5M540.5 232L540.5 235" stroke="#8a7050" stroke-width="1.0"/>
<polyline points="306.5,233.5 325.81,233.26 331.46,232.87 335.85,232.23 340.04,231.12 344.23,229.44 348.43,227.19 352.52,224.44 357,220.81 361.49,216.52 365.98,211.58 370.36,206.12 374.36,200.59 378.26,194.71 388.69,177.11 394.35,168.38 400.98,159.46 407.61,151.97 411.61,148.14 415.5,144.91 419.5,142.1 423.4,139.87 427.4,138.09 431.3,136.85 435.2,136.11 439.1,135.87 442.61,136.08 445.93,136.67 449.04,137.65 451.68,138.94 453.73,140.46 455.38,142.31 456.75,144.57 457.92,147.36 458.8,150.25 459.67,154.12 461.13,163.85 462.21,175.03 463.96,199.15 464.74,206.55 465.62,212.73 466.79,218.5 468.06,222.66 469.72,226.1 471.66,228.55 474.1,230.38 477.22,231.76 480.83,232.67 485.41,233.2 497.99,233.53 540.5,233.5" fill="none" stroke="#934a28" stroke-width="1.15" stroke-linejoin="round"/>
<path d="M306.5 231.75L308.16 234.72L304.84 234.72Z" fill="#6a4a1c" stroke="#5a3a18" stroke-width="0.5"/>
<path d="M314.3 231.73L315.96 234.71L312.64 234.71Z" fill="#6a4a1c" stroke="#5a3a18" stroke-width="0.5"/>
<path d="M322.1 231.63L323.76 234.6L320.44 234.6Z" fill="#6a4a1c" stroke="#5a3a18" stroke-width="0.5"/>
<path d="M329.9 231.26L331.56 234.23L328.24 234.23Z" fill="#6a4a1c" stroke="#5a3a18" stroke-width="0.5"/>
<path d="M337.7 230.06L339.36 233.04L336.04 233.04Z" fill="#6a4a1c" stroke="#5a3a18" stroke-width="0.5"/>
<path d="M345.5 227.07L347.16 230.05L343.84 230.05Z" fill="#6a4a1c" stroke="#5a3a18" stroke-width="0.5"/>
<path d="M353.3 222.11L354.96 225.08L351.64 225.08Z" fill="#6a4a1c" stroke="#5a3a18" stroke-width="0.5"/>
<path d="M361.1 215.17L362.76 218.14L359.44 218.14Z" fill="#6a4a1c" stroke="#5a3a18" stroke-width="0.5"/>
<path d="M368.9 206.26L370.56 209.23L367.24 209.23Z" fill="#6a4a1c" stroke="#5a3a18" stroke-width="0.5"/>
<path d="M376.7 195.37L378.36 198.34L375.04 198.34Z" fill="#6a4a1c" stroke="#5a3a18" stroke-width="0.5"/>
<path d="M384.5 182.51L386.16 185.48L382.84 185.48Z" fill="#6a4a1c" stroke="#5a3a18" stroke-width="0.5"/>
<path d="M392.3 169.67L393.96 172.65L390.64 172.65Z" fill="#6a4a1c" stroke="#5a3a18" stroke-width="0.5"/>
<path d="M400.1 158.81L401.76 161.79L398.44 161.79Z" fill="#6a4a1c" stroke="#5a3a18" stroke-width="0.5"/>
<path d="M407.9 149.92L409.56 152.9L406.24 152.9Z" fill="#6a4a1c" stroke="#5a3a18" stroke-width="0.5"/>
<path d="M415.7 143.01L417.36 145.98L414.04 145.98Z" fill="#6a4a1c" stroke="#5a3a18" stroke-width="0.5"/>
<path d="M423.5 138.07L425.16 141.04L421.84 141.04Z" fill="#6a4a1c" stroke="#5a3a18" stroke-width="0.5"/>
<path d="M431.3 135.1L432.96 138.08L429.64 138.08Z" fill="#6a4a1c" stroke="#5a3a18" stroke-width="0.5"/>
<path d="M439.1 134.12L440.76 137.09L437.44 137.09Z" fill="#6a4a1c" stroke="#5a3a18" stroke-width="0.5"/>
<path d="M446.9 135.18L448.56 138.15L445.24 138.15Z" fill="#6a4a1c" stroke="#5a3a18" stroke-width="0.5"/>
<path d="M454.7 139.71L456.36 142.68L453.04 142.68Z" fill="#6a4a1c" stroke="#5a3a18" stroke-width="0.5"/>
<path d="M462.5 177.18L464.16 180.15L460.84 180.15Z" fill="#6a4a1c" stroke="#5a3a18" stroke-width="0.5"/>
<path d="M470.3 225.22L471.96 228.2L468.64 228.2Z" fill="#6a4a1c" stroke="#5a3a18" stroke-width="0.5"/>
<path d="M478.1 230.29L479.76 233.26L476.44 233.26Z" fill="#6a4a1c" stroke="#5a3a18" stroke-width="0.5"/>
<path d="M485.9 231.48L487.56 234.45L484.24 234.45Z" fill="#6a4a1c" stroke="#5a3a18" stroke-width="0.5"/>
<path d="M493.7 231.74L495.36 234.71L492.04 234.71Z" fill="#6a4a1c" stroke="#5a3a18" stroke-width="0.5"/>
<path d="M501.5 231.79L503.16 234.77L499.84 234.77Z" fill="#6a4a1c" stroke="#5a3a18" stroke-width="0.5"/>
<path d="M509.3 231.79L510.96 234.77L507.64 234.77Z" fill="#6a4a1c" stroke="#5a3a18" stroke-width="0.5"/>
<path d="M517.1 231.79L518.76 234.76L515.44 234.76Z" fill="#6a4a1c" stroke="#5a3a18" stroke-width="0.5"/>
<path d="M524.9 231.77L526.56 234.75L523.24 234.75Z" fill="#6a4a1c" stroke="#5a3a18" stroke-width="0.5"/>
<path d="M532.7 231.76L534.36 234.74L531.04 234.74Z" fill="#6a4a1c" stroke="#5a3a18" stroke-width="0.5"/>
<path d="M540.5 231.75L542.16 234.72L538.84 234.72Z" fill="#6a4a1c" stroke="#5a3a18" stroke-width="0.5"/>
</g>
<g clip-path="url(#cf)">
<polyline points="306.5,256.5 350.08,256.47 364.71,256.26 373.38,255.64 384.5,253.74 394.83,255.55 401.56,256.14 411.22,256.41 440.47,256.62 451.19,257.16 457.04,258.05 462.5,261.7 467.96,258.03 472.54,257.24 476.44,256.86 489.9,256.52 540.5,256.49" fill="none" stroke="#1a1ac4" stroke-width="1.15" stroke-linejoin="round"/>
<rect x="305.5" y="255.5" width="2" height="2" fill="#1a1aa8" stroke="#10108a" stroke-width="0.5"/>
<rect x="315.25" y="255.5" width="2" height="2" fill="#1a1aa8" stroke="#10108a" stroke-width="0.5"/>
<rect x="325" y="255.5" width="2" height="2" fill="#1a1aa8" stroke="#10108a" stroke-width="0.5"/>
<rect x="334.75" y="255.5" width="2" height="2" fill="#1a1aa8" stroke="#10108a" stroke-width="0.5"/>
<rect x="344.5" y="255.49" width="2" height="2" fill="#1a1aa8" stroke="#10108a" stroke-width="0.5"/>
<rect x="354.25" y="255.44" width="2" height="2" fill="#1a1aa8" stroke="#10108a" stroke-width="0.5"/>
<rect x="364" y="255.25" width="2" height="2" fill="#1a1aa8" stroke="#10108a" stroke-width="0.5"/>
<rect x="373.75" y="254.45" width="2" height="2" fill="#1a1aa8" stroke="#10108a" stroke-width="0.5"/>
<rect x="383.5" y="252.74" width="2" height="2" fill="#1a1aa8" stroke="#10108a" stroke-width="0.5"/>
<rect x="393.25" y="254.46" width="2" height="2" fill="#1a1aa8" stroke="#10108a" stroke-width="0.5"/>
<rect x="403" y="255.25" width="2" height="2" fill="#1a1aa8" stroke="#10108a" stroke-width="0.5"/>
<rect x="412.75" y="255.43" width="2" height="2" fill="#1a1aa8" stroke="#10108a" stroke-width="0.5"/>
<rect x="422.5" y="255.48" width="2" height="2" fill="#1a1aa8" stroke="#10108a" stroke-width="0.5"/>
<rect x="432.25" y="255.52" width="2" height="2" fill="#1a1aa8" stroke="#10108a" stroke-width="0.5"/>
<rect x="442" y="255.68" width="2" height="2" fill="#1a1aa8" stroke="#10108a" stroke-width="0.5"/>
<rect x="451.75" y="256.34" width="2" height="2" fill="#1a1aa8" stroke="#10108a" stroke-width="0.5"/>
<rect x="461.5" y="260.7" width="2" height="2" fill="#1a1aa8" stroke="#10108a" stroke-width="0.5"/>
<rect x="471.25" y="256.28" width="2" height="2" fill="#1a1aa8" stroke="#10108a" stroke-width="0.5"/>
<rect x="481" y="255.62" width="2" height="2" fill="#1a1aa8" stroke="#10108a" stroke-width="0.5"/>
<rect x="490.75" y="255.51" width="2" height="2" fill="#1a1aa8" stroke="#10108a" stroke-width="0.5"/>
<rect x="500.5" y="255.5" width="2" height="2" fill="#1a1aa8" stroke="#10108a" stroke-width="0.5"/>
<rect x="510.25" y="255.49" width="2" height="2" fill="#1a1aa8" stroke="#10108a" stroke-width="0.5"/>
<rect x="520" y="255.49" width="2" height="2" fill="#1a1aa8" stroke="#10108a" stroke-width="0.5"/>
<rect x="529.75" y="255.49" width="2" height="2" fill="#1a1aa8" stroke="#10108a" stroke-width="0.5"/>
<rect x="539.5" y="255.49" width="2" height="2" fill="#1a1aa8" stroke="#10108a" stroke-width="0.5"/>
<polyline points="306.5,256.5 342.96,256.44 356.52,256.07 362.95,255.4 384.5,251.58 404.78,255.2 408.88,255.71 416.87,256.14 438.71,256.56 447,257.24 451.77,258.21 455.48,259.29 458.21,260.53 460.36,262.09 462.5,279.68 464.64,262.07 467.38,260.19 471.08,258.76 477.9,257.24 485.61,256.67 540.5,256.49" fill="none" stroke="#4e6f82" stroke-width="1.15" stroke-linejoin="round"/>
<circle cx="306.5" cy="256.5" r="1.36" fill="#9cb0c0" stroke="#34485c" stroke-width="0.9"/>
<circle cx="316.25" cy="256.5" r="1.36" fill="#9cb0c0" stroke="#34485c" stroke-width="0.9"/>
<circle cx="326" cy="256.5" r="1.36" fill="#9cb0c0" stroke="#34485c" stroke-width="0.9"/>
<circle cx="335.75" cy="256.48" r="1.36" fill="#9cb0c0" stroke="#34485c" stroke-width="0.9"/>
<circle cx="345.5" cy="256.41" r="1.36" fill="#9cb0c0" stroke="#34485c" stroke-width="0.9"/>
<circle cx="355.25" cy="256.14" r="1.36" fill="#9cb0c0" stroke="#34485c" stroke-width="0.9"/>
<circle cx="365" cy="255.04" r="1.36" fill="#9cb0c0" stroke="#34485c" stroke-width="0.9"/>
<circle cx="374.75" cy="253.3" r="1.36" fill="#9cb0c0" stroke="#34485c" stroke-width="0.9"/>
<circle cx="384.5" cy="251.58" r="1.36" fill="#9cb0c0" stroke="#34485c" stroke-width="0.9"/>
<circle cx="394.25" cy="253.32" r="1.36" fill="#9cb0c0" stroke="#34485c" stroke-width="0.9"/>
<circle cx="404" cy="255.06" r="1.36" fill="#9cb0c0" stroke="#34485c" stroke-width="0.9"/>
<circle cx="413.75" cy="256.03" r="1.36" fill="#9cb0c0" stroke="#34485c" stroke-width="0.9"/>
<circle cx="423.5" cy="256.27" r="1.36" fill="#9cb0c0" stroke="#34485c" stroke-width="0.9"/>
<circle cx="433.25" cy="256.4" r="1.36" fill="#9cb0c0" stroke="#34485c" stroke-width="0.9"/>
<circle cx="443" cy="256.8" r="1.36" fill="#9cb0c0" stroke="#34485c" stroke-width="0.9"/>
<circle cx="452.75" cy="258.45" r="1.36" fill="#9cb0c0" stroke="#34485c" stroke-width="0.9"/>
<circle cx="462.5" cy="279.68" r="1.36" fill="#9cb0c0" stroke="#34485c" stroke-width="0.9"/>
<circle cx="472.25" cy="258.43" r="1.36" fill="#9cb0c0" stroke="#34485c" stroke-width="0.9"/>
<circle cx="482" cy="256.84" r="1.36" fill="#9cb0c0" stroke="#34485c" stroke-width="0.9"/>
<circle cx="491.75" cy="256.55" r="1.36" fill="#9cb0c0" stroke="#34485c" stroke-width="0.9"/>
<circle cx="501.5" cy="256.5" r="1.36" fill="#9cb0c0" stroke="#34485c" stroke-width="0.9"/>
<circle cx="511.25" cy="256.49" r="1.36" fill="#9cb0c0" stroke="#34485c" stroke-width="0.9"/>
<circle cx="521" cy="256.49" r="1.36" fill="#9cb0c0" stroke="#34485c" stroke-width="0.9"/>
<circle cx="530.75" cy="256.49" r="1.36" fill="#9cb0c0" stroke="#34485c" stroke-width="0.9"/>
<circle cx="540.5" cy="256.49" r="1.36" fill="#9cb0c0" stroke="#34485c" stroke-width="0.9"/>
<polyline points="306.5,256.5 337.41,256.41 350.08,255.95 355.06,255.35 384.5,250.12 416.28,255.74 422.62,256.28 442.12,257.12 446.61,257.7 452.26,258.95 456.36,260.38 459.28,262.21 462.5,298.25 465.72,262.19 467.86,260.75 470.88,259.48 475.18,258.34 480.54,257.29 485.51,256.81 498.09,256.52 540.5,256.49" fill="none" stroke="#2f662c" stroke-width="1.15" stroke-linejoin="round"/>
<rect x="305.5" y="255.5" width="2" height="2" fill="#23501f" stroke="#1c4518" stroke-width="0.5"/>
<rect x="315.25" y="255.5" width="2" height="2" fill="#23501f" stroke="#1c4518" stroke-width="0.5"/>
<rect x="325" y="255.48" width="2" height="2" fill="#23501f" stroke="#1c4518" stroke-width="0.5"/>
<rect x="334.75" y="255.43" width="2" height="2" fill="#23501f" stroke="#1c4518" stroke-width="0.5"/>
<rect x="344.5" y="255.22" width="2" height="2" fill="#23501f" stroke="#1c4518" stroke-width="0.5"/>
<rect x="354.25" y="254.32" width="2" height="2" fill="#23501f" stroke="#1c4518" stroke-width="0.5"/>
<rect x="364" y="252.58" width="2" height="2" fill="#23501f" stroke="#1c4518" stroke-width="0.5"/>
<rect x="373.75" y="250.84" width="2" height="2" fill="#23501f" stroke="#1c4518" stroke-width="0.5"/>
<rect x="383.5" y="249.12" width="2" height="2" fill="#23501f" stroke="#1c4518" stroke-width="0.5"/>
<rect x="393.25" y="250.86" width="2" height="2" fill="#23501f" stroke="#1c4518" stroke-width="0.5"/>
<rect x="403" y="252.6" width="2" height="2" fill="#23501f" stroke="#1c4518" stroke-width="0.5"/>
<rect x="412.75" y="254.34" width="2" height="2" fill="#23501f" stroke="#1c4518" stroke-width="0.5"/>
<rect x="422.5" y="255.32" width="2" height="2" fill="#23501f" stroke="#1c4518" stroke-width="0.5"/>
<rect x="432.25" y="255.66" width="2" height="2" fill="#23501f" stroke="#1c4518" stroke-width="0.5"/>
<rect x="442" y="256.21" width="2" height="2" fill="#23501f" stroke="#1c4518" stroke-width="0.5"/>
<rect x="451.75" y="258.09" width="2" height="2" fill="#23501f" stroke="#1c4518" stroke-width="0.5"/>
<rect x="461.5" y="297.25" width="2" height="2" fill="#23501f" stroke="#1c4518" stroke-width="0.5"/>
<rect x="471.25" y="258.07" width="2" height="2" fill="#23501f" stroke="#1c4518" stroke-width="0.5"/>
<rect x="481" y="256.1" width="2" height="2" fill="#23501f" stroke="#1c4518" stroke-width="0.5"/>
<rect x="490.75" y="255.59" width="2" height="2" fill="#23501f" stroke="#1c4518" stroke-width="0.5"/>
<rect x="500.5" y="255.51" width="2" height="2" fill="#23501f" stroke="#1c4518" stroke-width="0.5"/>
<rect x="510.25" y="255.49" width="2" height="2" fill="#23501f" stroke="#1c4518" stroke-width="0.5"/>
<rect x="520" y="255.49" width="2" height="2" fill="#23501f" stroke="#1c4518" stroke-width="0.5"/>
<rect x="529.75" y="255.49" width="2" height="2" fill="#23501f" stroke="#1c4518" stroke-width="0.5"/>
<rect x="539.5" y="255.49" width="2" height="2" fill="#23501f" stroke="#1c4518" stroke-width="0.5"/>
<polyline points="306.5,256.5 332.63,256.38 344.33,255.84 348.23,255.32 384.5,248.88 422.92,255.69 428.08,256.22 440.17,256.96 444.85,257.5 450.61,258.68 454.5,259.84 456.94,260.98 458.31,262.02 462.5,315.75 466.79,261.8 469.52,260.22 473.23,258.96 480.25,257.43 485.02,256.88 497.6,256.53 540.5,256.49" fill="none" stroke="#5a2d8e" stroke-width="1.15" stroke-linejoin="round"/>
<path d="M306.5 254.94L308.06 256.5L306.5 258.06L304.94 256.5Z" fill="#8c6cbc" stroke="#43206e" stroke-width="0.7"/>
<path d="M316.25 254.93L317.81 256.49L316.25 258.05L314.69 256.49Z" fill="#8c6cbc" stroke="#43206e" stroke-width="0.7"/>
<path d="M326 254.9L327.56 256.46L326 258.02L324.44 256.46Z" fill="#8c6cbc" stroke="#43206e" stroke-width="0.7"/>
<path d="M335.75 254.75L337.31 256.31L335.75 257.87L334.19 256.31Z" fill="#8c6cbc" stroke="#43206e" stroke-width="0.7"/>
<path d="M345.5 254.15L347.06 255.71L345.5 257.27L343.94 255.71Z" fill="#8c6cbc" stroke="#43206e" stroke-width="0.7"/>
<path d="M355.25 252.51L356.81 254.07L355.25 255.63L353.69 254.07Z" fill="#8c6cbc" stroke="#43206e" stroke-width="0.7"/>
<path d="M365 250.77L366.56 252.33L365 253.89L363.44 252.33Z" fill="#8c6cbc" stroke="#43206e" stroke-width="0.7"/>
<path d="M374.75 249.04L376.31 250.6L374.75 252.16L373.19 250.6Z" fill="#8c6cbc" stroke="#43206e" stroke-width="0.7"/>
<path d="M384.5 247.32L386.06 248.88L384.5 250.44L382.94 248.88Z" fill="#8c6cbc" stroke="#43206e" stroke-width="0.7"/>
<path d="M394.25 249.05L395.81 250.61L394.25 252.17L392.69 250.61Z" fill="#8c6cbc" stroke="#43206e" stroke-width="0.7"/>
<path d="M404 250.79L405.56 252.35L404 253.91L402.44 252.35Z" fill="#8c6cbc" stroke="#43206e" stroke-width="0.7"/>
<path d="M413.75 252.53L415.31 254.09L413.75 255.65L412.19 254.09Z" fill="#8c6cbc" stroke="#43206e" stroke-width="0.7"/>
<path d="M423.5 254.21L425.06 255.77L423.5 257.33L421.94 255.77Z" fill="#8c6cbc" stroke="#43206e" stroke-width="0.7"/>
<path d="M433.25 254.97L434.81 256.53L433.25 258.09L431.69 256.53Z" fill="#8c6cbc" stroke="#43206e" stroke-width="0.7"/>
<path d="M443 255.68L444.56 257.24L443 258.8L441.44 257.24Z" fill="#8c6cbc" stroke="#43206e" stroke-width="0.7"/>
<path d="M452.75 257.69L454.31 259.25L452.75 260.81L451.19 259.25Z" fill="#8c6cbc" stroke="#43206e" stroke-width="0.7"/>
<path d="M462.5 314.19L464.06 315.75L462.5 317.31L460.94 315.75Z" fill="#8c6cbc" stroke="#43206e" stroke-width="0.7"/>
<path d="M472.25 257.68L473.81 259.24L472.25 260.8L470.69 259.24Z" fill="#8c6cbc" stroke="#43206e" stroke-width="0.7"/>
<path d="M482 255.61L483.56 257.17L482 258.73L480.44 257.17Z" fill="#8c6cbc" stroke="#43206e" stroke-width="0.7"/>
<path d="M491.75 255.04L493.31 256.6L491.75 258.16L490.19 256.6Z" fill="#8c6cbc" stroke="#43206e" stroke-width="0.7"/>
<path d="M501.5 254.95L503.06 256.51L501.5 258.07L499.94 256.51Z" fill="#8c6cbc" stroke="#43206e" stroke-width="0.7"/>
<path d="M511.25 254.93L512.81 256.49L511.25 258.05L509.69 256.49Z" fill="#8c6cbc" stroke="#43206e" stroke-width="0.7"/>
<path d="M521 254.93L522.56 256.49L521 258.05L519.44 256.49Z" fill="#8c6cbc" stroke="#43206e" stroke-width="0.7"/>
<path d="M530.75 254.93L532.31 256.49L530.75 258.05L529.19 256.49Z" fill="#8c6cbc" stroke="#43206e" stroke-width="0.7"/>
<path d="M540.5 254.93L542.06 256.49L540.5 258.05L538.94 256.49Z" fill="#8c6cbc" stroke="#43206e" stroke-width="0.7"/>
<polyline points="306.5,256.5 328.83,256.35 339.65,255.76 384.5,247.91 428.28,255.7 444.37,257.56 451.38,259.09 455.58,260.59 457.33,261.6 457.43,262.25 462.5,331.53 467.67,261.58 470.5,260.1 474.3,258.9 481.42,257.4 486.19,256.86 498.67,256.53 540.5,256.49" fill="none" stroke="#c09e7a" stroke-width="1.15" stroke-linejoin="round"/>
<path d="M305.3 256.5L307.7 256.5M306.5 255.3L306.5 257.7" stroke="#8a7050" stroke-width="1.0"/>
<path d="M315.05 256.48L317.45 256.48M316.25 255.28L316.25 257.68" stroke="#8a7050" stroke-width="1.0"/>
<path d="M324.8 256.4L327.2 256.4M326 255.2L326 257.6" stroke="#8a7050" stroke-width="1.0"/>
<path d="M334.55 256.08L336.95 256.08M335.75 254.88L335.75 257.28" stroke="#8a7050" stroke-width="1.0"/>
<path d="M344.3 254.84L346.7 254.84M345.5 253.64L345.5 256.04" stroke="#8a7050" stroke-width="1.0"/>
<path d="M354.05 253.1L356.45 253.1M355.25 251.9L355.25 254.3" stroke="#8a7050" stroke-width="1.0"/>
<path d="M363.8 251.36L366.2 251.36M365 250.16L365 252.56" stroke="#8a7050" stroke-width="1.0"/>
<path d="M373.55 249.63L375.95 249.63M374.75 248.43L374.75 250.83" stroke="#8a7050" stroke-width="1.0"/>
<path d="M383.3 247.91L385.7 247.91M384.5 246.71L384.5 249.11" stroke="#8a7050" stroke-width="1.0"/>
<path d="M393.05 249.64L395.45 249.64M394.25 248.44L394.25 250.84" stroke="#8a7050" stroke-width="1.0"/>
<path d="M402.8 251.38L405.2 251.38M404 250.18L404 252.58" stroke="#8a7050" stroke-width="1.0"/>
<path d="M412.55 253.12L414.95 253.12M413.75 251.92L413.75 254.32" stroke="#8a7050" stroke-width="1.0"/>
<path d="M422.3 254.86L424.7 254.86M423.5 253.66L423.5 256.06" stroke="#8a7050" stroke-width="1.0"/>
<path d="M432.05 256.32L434.45 256.32M433.25 255.12L433.25 257.52" stroke="#8a7050" stroke-width="1.0"/>
<path d="M441.8 257.34L444.2 257.34M443 256.14L443 258.54" stroke="#8a7050" stroke-width="1.0"/>
<path d="M451.55 259.49L453.95 259.49M452.75 258.29L452.75 260.69" stroke="#8a7050" stroke-width="1.0"/>
<path d="M461.3 331.53L463.7 331.53M462.5 330.33L462.5 332.73" stroke="#8a7050" stroke-width="1.0"/>
<path d="M471.05 259.47L473.45 259.47M472.25 258.27L472.25 260.67" stroke="#8a7050" stroke-width="1.0"/>
<path d="M480.8 257.31L483.2 257.31M482 256.11L482 258.51" stroke="#8a7050" stroke-width="1.0"/>
<path d="M490.55 256.62L492.95 256.62M491.75 255.42L491.75 257.82" stroke="#8a7050" stroke-width="1.0"/>
<path d="M500.3 256.51L502.7 256.51M501.5 255.31L501.5 257.71" stroke="#8a7050" stroke-width="1.0"/>
<path d="M510.05 256.49L512.45 256.49M511.25 255.29L511.25 257.69" stroke="#8a7050" stroke-width="1.0"/>
<path d="M519.8 256.49L522.2 256.49M521 255.29L521 257.69" stroke="#8a7050" stroke-width="1.0"/>
<path d="M529.55 256.49L531.95 256.49M530.75 255.29L530.75 257.69" stroke="#8a7050" stroke-width="1.0"/>
<path d="M539.3 256.49L541.7 256.49M540.5 255.29L540.5 257.69" stroke="#8a7050" stroke-width="1.0"/>
<polyline points="306.5,256.5 324.44,256.31 334.09,255.66 384.5,246.77 445.44,257.69 451.97,259.21 455.97,260.81 456.65,261.21 456.75,261.67 462.5,342.85 465.52,298.89 468.35,261.19 471.18,259.81 475.08,258.64 481.22,257.37 486.1,256.84 498.57,256.53 540.5,256.49" fill="none" stroke="#934a28" stroke-width="1.15" stroke-linejoin="round"/>
<path d="M306.5 255.1L307.83 257.48L305.17 257.48Z" fill="#6a4a1c" stroke="#5a3a18" stroke-width="0.5"/>
<path d="M316.25 255.05L317.58 257.43L314.92 257.43Z" fill="#6a4a1c" stroke="#5a3a18" stroke-width="0.5"/>
<path d="M326 254.85L327.33 257.23L324.67 257.23Z" fill="#6a4a1c" stroke="#5a3a18" stroke-width="0.5"/>
<path d="M335.75 254.03L337.08 256.41L334.42 256.41Z" fill="#6a4a1c" stroke="#5a3a18" stroke-width="0.5"/>
<path d="M345.5 252.3L346.83 254.68L344.17 254.68Z" fill="#6a4a1c" stroke="#5a3a18" stroke-width="0.5"/>
<path d="M355.25 250.56L356.58 252.94L353.92 252.94Z" fill="#6a4a1c" stroke="#5a3a18" stroke-width="0.5"/>
<path d="M365 248.83L366.33 251.21L363.67 251.21Z" fill="#6a4a1c" stroke="#5a3a18" stroke-width="0.5"/>
<path d="M374.75 247.09L376.08 249.47L373.42 249.47Z" fill="#6a4a1c" stroke="#5a3a18" stroke-width="0.5"/>
<path d="M384.5 245.37L385.83 247.75L383.17 247.75Z" fill="#6a4a1c" stroke="#5a3a18" stroke-width="0.5"/>
<path d="M394.25 247.11L395.58 249.49L392.92 249.49Z" fill="#6a4a1c" stroke="#5a3a18" stroke-width="0.5"/>
<path d="M404 248.84L405.33 251.22L402.67 251.22Z" fill="#6a4a1c" stroke="#5a3a18" stroke-width="0.5"/>
<path d="M413.75 250.58L415.08 252.96L412.42 252.96Z" fill="#6a4a1c" stroke="#5a3a18" stroke-width="0.5"/>
<path d="M423.5 252.32L424.83 254.7L422.17 254.7Z" fill="#6a4a1c" stroke="#5a3a18" stroke-width="0.5"/>
<path d="M433.25 254.06L434.58 256.44L431.92 256.44Z" fill="#6a4a1c" stroke="#5a3a18" stroke-width="0.5"/>
<path d="M443 255.82L444.33 258.2L441.67 258.2Z" fill="#6a4a1c" stroke="#5a3a18" stroke-width="0.5"/>
<path d="M452.75 258.05L454.08 260.43L451.42 260.43Z" fill="#6a4a1c" stroke="#5a3a18" stroke-width="0.5"/>
<path d="M462.5 341.45L463.83 343.83L461.17 343.83Z" fill="#6a4a1c" stroke="#5a3a18" stroke-width="0.5"/>
<path d="M472.25 258.03L473.58 260.41L470.92 260.41Z" fill="#6a4a1c" stroke="#5a3a18" stroke-width="0.5"/>
<path d="M482 255.85L483.33 258.23L480.67 258.23Z" fill="#6a4a1c" stroke="#5a3a18" stroke-width="0.5"/>
<path d="M491.75 255.21L493.08 257.59L490.42 257.59Z" fill="#6a4a1c" stroke="#5a3a18" stroke-width="0.5"/>
<path d="M501.5 255.11L502.83 257.49L500.17 257.49Z" fill="#6a4a1c" stroke="#5a3a18" stroke-width="0.5"/>
<path d="M511.25 255.09L512.58 257.47L509.92 257.47Z" fill="#6a4a1c" stroke="#5a3a18" stroke-width="0.5"/>
<path d="M521 255.09L522.33 257.47L519.67 257.47Z" fill="#6a4a1c" stroke="#5a3a18" stroke-width="0.5"/>
<path d="M530.75 255.09L532.08 257.47L529.42 257.47Z" fill="#6a4a1c" stroke="#5a3a18" stroke-width="0.5"/>
<path d="M540.5 255.09L541.83 257.47L539.17 257.47Z" fill="#6a4a1c" stroke="#5a3a18" stroke-width="0.5"/>
</g>
<rect x="34.5" y="6.5" width="234" height="108" class="fr"/>
<line x1="34.5" y1="114.5" x2="34.5" y2="117.6" class="tk"/>
<line x1="73.5" y1="114.5" x2="73.5" y2="117.6" class="tk"/>
<line x1="112.5" y1="114.5" x2="112.5" y2="117.6" class="tk"/>
<line x1="151.5" y1="114.5" x2="151.5" y2="117.6" class="tk"/>
<line x1="190.5" y1="114.5" x2="190.5" y2="117.6" class="tk"/>
<line x1="229.5" y1="114.5" x2="229.5" y2="117.6" class="tk"/>
<line x1="268.5" y1="114.5" x2="268.5" y2="117.6" class="tk"/>
<line x1="30.9" y1="6.5" x2="34.5" y2="6.5" class="tk"/>
<text x="27.8" y="8.8" class="tx" font-size="6.9" text-anchor="end" textLength="4.39" lengthAdjust="spacingAndGlyphs">3</text>
<line x1="30.9" y1="24.5" x2="34.5" y2="24.5" class="tk"/>
<text x="27.8" y="26.8" class="tx" font-size="6.9" text-anchor="end" textLength="4.39" lengthAdjust="spacingAndGlyphs">2</text>
<line x1="30.9" y1="42.5" x2="34.5" y2="42.5" class="tk"/>
<text x="27.8" y="44.8" class="tx" font-size="6.9" text-anchor="end" textLength="4.39" lengthAdjust="spacingAndGlyphs">1</text>
<line x1="30.9" y1="60.5" x2="34.5" y2="60.5" class="tk"/>
<text x="27.8" y="62.8" class="tx" font-size="6.9" text-anchor="end" textLength="4.39" lengthAdjust="spacingAndGlyphs">0</text>
<line x1="30.9" y1="78.5" x2="34.5" y2="78.5" class="tk"/>
<text x="27.8" y="80.8" class="tx" font-size="6.9" text-anchor="end" textLength="6.88" lengthAdjust="spacingAndGlyphs">-1</text>
<line x1="30.9" y1="96.5" x2="34.5" y2="96.5" class="tk"/>
<text x="27.8" y="98.8" class="tx" font-size="6.9" text-anchor="end" textLength="6.88" lengthAdjust="spacingAndGlyphs">-2</text>
<line x1="30.9" y1="114.5" x2="34.5" y2="114.5" class="tk"/>
<text x="27.8" y="116.8" class="tx" font-size="6.9" text-anchor="end" textLength="6.88" lengthAdjust="spacingAndGlyphs">-3</text>
<text x="0" y="0" class="lb" font-size="7.0" text-anchor="middle" textLength="82.79" lengthAdjust="spacingAndGlyphs" transform="translate(8.9,60.5) rotate(-90)">Pipe axial force (MN)</text>
<text x="45.6" y="17.2" class="lb" font-size="8.0" text-anchor="start" textLength="9.05" lengthAdjust="spacingAndGlyphs">a)</text>
<rect x="34.5" y="125.5" width="234" height="108" class="fr"/>
<line x1="34.5" y1="233.5" x2="34.5" y2="236.6" class="tk"/>
<line x1="73.5" y1="233.5" x2="73.5" y2="236.6" class="tk"/>
<line x1="112.5" y1="233.5" x2="112.5" y2="236.6" class="tk"/>
<line x1="151.5" y1="233.5" x2="151.5" y2="236.6" class="tk"/>
<line x1="190.5" y1="233.5" x2="190.5" y2="236.6" class="tk"/>
<line x1="229.5" y1="233.5" x2="229.5" y2="236.6" class="tk"/>
<line x1="268.5" y1="233.5" x2="268.5" y2="236.6" class="tk"/>
<line x1="30.9" y1="125.5" x2="34.5" y2="125.5" class="tk"/>
<text x="27.8" y="127.8" class="tx" font-size="6.9" text-anchor="end" textLength="13.17" lengthAdjust="spacingAndGlyphs">300</text>
<line x1="30.9" y1="143.5" x2="34.5" y2="143.5" class="tk"/>
<text x="27.8" y="145.8" class="tx" font-size="6.9" text-anchor="end" textLength="13.17" lengthAdjust="spacingAndGlyphs">200</text>
<line x1="30.9" y1="161.5" x2="34.5" y2="161.5" class="tk"/>
<text x="27.8" y="163.8" class="tx" font-size="6.9" text-anchor="end" textLength="13.17" lengthAdjust="spacingAndGlyphs">100</text>
<line x1="30.9" y1="179.5" x2="34.5" y2="179.5" class="tk"/>
<text x="27.8" y="181.8" class="tx" font-size="6.9" text-anchor="end" textLength="4.39" lengthAdjust="spacingAndGlyphs">0</text>
<line x1="30.9" y1="197.5" x2="34.5" y2="197.5" class="tk"/>
<text x="27.8" y="199.8" class="tx" font-size="6.9" text-anchor="end" textLength="15.66" lengthAdjust="spacingAndGlyphs">-100</text>
<line x1="30.9" y1="215.5" x2="34.5" y2="215.5" class="tk"/>
<text x="27.8" y="217.8" class="tx" font-size="6.9" text-anchor="end" textLength="15.66" lengthAdjust="spacingAndGlyphs">-200</text>
<line x1="30.9" y1="233.5" x2="34.5" y2="233.5" class="tk"/>
<text x="27.8" y="235.8" class="tx" font-size="6.9" text-anchor="end" textLength="15.66" lengthAdjust="spacingAndGlyphs">-300</text>
<text x="0" y="0" class="lb" font-size="7.0" text-anchor="middle" textLength="69.24" lengthAdjust="spacingAndGlyphs" transform="translate(8.9,179.5) rotate(-90)">Pipe stress (MPa)</text>
<text x="45.6" y="136.2" class="lb" font-size="8.0" text-anchor="start" textLength="9.38" lengthAdjust="spacingAndGlyphs">b)</text>
<rect x="34.5" y="244.5" width="234" height="108" class="fr"/>
<line x1="34.5" y1="352.5" x2="34.5" y2="355.6" class="tk"/>
<line x1="73.5" y1="352.5" x2="73.5" y2="355.6" class="tk"/>
<line x1="112.5" y1="352.5" x2="112.5" y2="355.6" class="tk"/>
<line x1="151.5" y1="352.5" x2="151.5" y2="355.6" class="tk"/>
<line x1="190.5" y1="352.5" x2="190.5" y2="355.6" class="tk"/>
<line x1="229.5" y1="352.5" x2="229.5" y2="355.6" class="tk"/>
<line x1="268.5" y1="352.5" x2="268.5" y2="355.6" class="tk"/>
<line x1="30.9" y1="244.5" x2="34.5" y2="244.5" class="tk"/>
<text x="27.8" y="246.8" class="tx" font-size="6.9" text-anchor="end" textLength="8.78" lengthAdjust="spacingAndGlyphs">30</text>
<line x1="30.9" y1="262.5" x2="34.5" y2="262.5" class="tk"/>
<text x="27.8" y="264.8" class="tx" font-size="6.9" text-anchor="end" textLength="8.78" lengthAdjust="spacingAndGlyphs">20</text>
<line x1="30.9" y1="280.5" x2="34.5" y2="280.5" class="tk"/>
<text x="27.8" y="282.8" class="tx" font-size="6.9" text-anchor="end" textLength="8.78" lengthAdjust="spacingAndGlyphs">10</text>
<line x1="30.9" y1="298.5" x2="34.5" y2="298.5" class="tk"/>
<text x="27.8" y="300.8" class="tx" font-size="6.9" text-anchor="end" textLength="4.39" lengthAdjust="spacingAndGlyphs">0</text>
<line x1="30.9" y1="316.5" x2="34.5" y2="316.5" class="tk"/>
<text x="27.8" y="318.8" class="tx" font-size="6.9" text-anchor="end" textLength="11.27" lengthAdjust="spacingAndGlyphs">-10</text>
<line x1="30.9" y1="334.5" x2="34.5" y2="334.5" class="tk"/>
<text x="27.8" y="336.8" class="tx" font-size="6.9" text-anchor="end" textLength="11.27" lengthAdjust="spacingAndGlyphs">-20</text>
<line x1="30.9" y1="352.5" x2="34.5" y2="352.5" class="tk"/>
<text x="27.8" y="354.8" class="tx" font-size="6.9" text-anchor="end" textLength="11.27" lengthAdjust="spacingAndGlyphs">-30</text>
<text x="0" y="0" class="lb" font-size="7.0" text-anchor="middle" textLength="74.87" lengthAdjust="spacingAndGlyphs" transform="translate(8.9,298.5) rotate(-90)">Soil friction (kN/m)</text>
<text x="45.6" y="255.2" class="lb" font-size="8.0" text-anchor="start" textLength="8.4" lengthAdjust="spacingAndGlyphs">c)</text>
<rect x="306.5" y="6.5" width="234" height="108" class="fr"/>
<line x1="306.5" y1="114.5" x2="306.5" y2="117.6" class="tk"/>
<line x1="345.5" y1="114.5" x2="345.5" y2="117.6" class="tk"/>
<line x1="384.5" y1="114.5" x2="384.5" y2="117.6" class="tk"/>
<line x1="423.5" y1="114.5" x2="423.5" y2="117.6" class="tk"/>
<line x1="462.5" y1="114.5" x2="462.5" y2="117.6" class="tk"/>
<line x1="501.5" y1="114.5" x2="501.5" y2="117.6" class="tk"/>
<line x1="540.5" y1="114.5" x2="540.5" y2="117.6" class="tk"/>
<line x1="302.9" y1="6.5" x2="306.5" y2="6.5" class="tk"/>
<text x="299.8" y="8.8" class="tx" font-size="6.9" text-anchor="end" textLength="15.36" lengthAdjust="spacingAndGlyphs">0.25</text>
<line x1="302.9" y1="28.1" x2="306.5" y2="28.1" class="tk"/>
<text x="299.8" y="30.4" class="tx" font-size="6.9" text-anchor="end" textLength="15.36" lengthAdjust="spacingAndGlyphs">0.20</text>
<line x1="302.9" y1="49.7" x2="306.5" y2="49.7" class="tk"/>
<text x="299.8" y="52" class="tx" font-size="6.9" text-anchor="end" textLength="15.36" lengthAdjust="spacingAndGlyphs">0.15</text>
<line x1="302.9" y1="71.3" x2="306.5" y2="71.3" class="tk"/>
<text x="299.8" y="73.6" class="tx" font-size="6.9" text-anchor="end" textLength="15.36" lengthAdjust="spacingAndGlyphs">0.10</text>
<line x1="302.9" y1="92.9" x2="306.5" y2="92.9" class="tk"/>
<text x="299.8" y="95.2" class="tx" font-size="6.9" text-anchor="end" textLength="15.36" lengthAdjust="spacingAndGlyphs">0.05</text>
<line x1="302.9" y1="114.5" x2="306.5" y2="114.5" class="tk"/>
<text x="299.8" y="116.8" class="tx" font-size="6.9" text-anchor="end" textLength="15.36" lengthAdjust="spacingAndGlyphs">0.00</text>
<text x="0" y="0" class="lb" font-size="7.0" text-anchor="middle" textLength="100.53" lengthAdjust="spacingAndGlyphs" transform="translate(281.2,60.5) rotate(-90)">Ground displacement (m)</text>
<text x="317.6" y="17.2" class="lb" font-size="8.0" text-anchor="start" textLength="9.38" lengthAdjust="spacingAndGlyphs">d)</text>
<rect x="306.5" y="125.5" width="234" height="108" class="fr"/>
<line x1="306.5" y1="233.5" x2="306.5" y2="236.6" class="tk"/>
<line x1="345.5" y1="233.5" x2="345.5" y2="236.6" class="tk"/>
<line x1="384.5" y1="233.5" x2="384.5" y2="236.6" class="tk"/>
<line x1="423.5" y1="233.5" x2="423.5" y2="236.6" class="tk"/>
<line x1="462.5" y1="233.5" x2="462.5" y2="236.6" class="tk"/>
<line x1="501.5" y1="233.5" x2="501.5" y2="236.6" class="tk"/>
<line x1="540.5" y1="233.5" x2="540.5" y2="236.6" class="tk"/>
<line x1="302.9" y1="125.5" x2="306.5" y2="125.5" class="tk"/>
<text x="299.8" y="127.8" class="tx" font-size="6.9" text-anchor="end" textLength="15.36" lengthAdjust="spacingAndGlyphs">0.25</text>
<line x1="302.9" y1="147.1" x2="306.5" y2="147.1" class="tk"/>
<text x="299.8" y="149.4" class="tx" font-size="6.9" text-anchor="end" textLength="15.36" lengthAdjust="spacingAndGlyphs">0.20</text>
<line x1="302.9" y1="168.7" x2="306.5" y2="168.7" class="tk"/>
<text x="299.8" y="171" class="tx" font-size="6.9" text-anchor="end" textLength="15.36" lengthAdjust="spacingAndGlyphs">0.15</text>
<line x1="302.9" y1="190.3" x2="306.5" y2="190.3" class="tk"/>
<text x="299.8" y="192.6" class="tx" font-size="6.9" text-anchor="end" textLength="15.36" lengthAdjust="spacingAndGlyphs">0.10</text>
<line x1="302.9" y1="211.9" x2="306.5" y2="211.9" class="tk"/>
<text x="299.8" y="214.2" class="tx" font-size="6.9" text-anchor="end" textLength="15.36" lengthAdjust="spacingAndGlyphs">0.05</text>
<line x1="302.9" y1="233.5" x2="306.5" y2="233.5" class="tk"/>
<text x="299.8" y="235.8" class="tx" font-size="6.9" text-anchor="end" textLength="15.36" lengthAdjust="spacingAndGlyphs">0.00</text>
<text x="0" y="0" class="lb" font-size="7.0" text-anchor="middle" textLength="110.03" lengthAdjust="spacingAndGlyphs" transform="translate(281.2,179.5) rotate(-90)">Pipe axial displacement (m)</text>
<text x="317.6" y="136.2" class="lb" font-size="8.0" text-anchor="start" textLength="9.08" lengthAdjust="spacingAndGlyphs">e)</text>
<rect x="306.5" y="244.5" width="234" height="108" class="fr"/>
<line x1="306.5" y1="352.5" x2="306.5" y2="355.6" class="tk"/>
<line x1="345.5" y1="352.5" x2="345.5" y2="355.6" class="tk"/>
<line x1="384.5" y1="352.5" x2="384.5" y2="355.6" class="tk"/>
<line x1="423.5" y1="352.5" x2="423.5" y2="355.6" class="tk"/>
<line x1="462.5" y1="352.5" x2="462.5" y2="355.6" class="tk"/>
<line x1="501.5" y1="352.5" x2="501.5" y2="355.6" class="tk"/>
<line x1="540.5" y1="352.5" x2="540.5" y2="355.6" class="tk"/>
<line x1="302.9" y1="244.5" x2="306.5" y2="244.5" class="tk"/>
<text x="299.8" y="246.8" class="tx" font-size="6.9" text-anchor="end" textLength="10.97" lengthAdjust="spacingAndGlyphs">0.2</text>
<line x1="302.9" y1="256.5" x2="306.5" y2="256.5" class="tk"/>
<text x="299.8" y="258.8" class="tx" font-size="6.9" text-anchor="end" textLength="13.46" lengthAdjust="spacingAndGlyphs">-0.0</text>
<line x1="302.9" y1="268.5" x2="306.5" y2="268.5" class="tk"/>
<text x="299.8" y="270.8" class="tx" font-size="6.9" text-anchor="end" textLength="13.46" lengthAdjust="spacingAndGlyphs">-0.2</text>
<line x1="302.9" y1="280.5" x2="306.5" y2="280.5" class="tk"/>
<text x="299.8" y="282.8" class="tx" font-size="6.9" text-anchor="end" textLength="13.46" lengthAdjust="spacingAndGlyphs">-0.4</text>
<line x1="302.9" y1="292.5" x2="306.5" y2="292.5" class="tk"/>
<text x="299.8" y="294.8" class="tx" font-size="6.9" text-anchor="end" textLength="13.46" lengthAdjust="spacingAndGlyphs">-0.6</text>
<line x1="302.9" y1="304.5" x2="306.5" y2="304.5" class="tk"/>
<text x="299.8" y="306.8" class="tx" font-size="6.9" text-anchor="end" textLength="13.46" lengthAdjust="spacingAndGlyphs">-0.8</text>
<line x1="302.9" y1="316.5" x2="306.5" y2="316.5" class="tk"/>
<text x="299.8" y="318.8" class="tx" font-size="6.9" text-anchor="end" textLength="13.46" lengthAdjust="spacingAndGlyphs">-1.0</text>
<line x1="302.9" y1="328.5" x2="306.5" y2="328.5" class="tk"/>
<text x="299.8" y="330.8" class="tx" font-size="6.9" text-anchor="end" textLength="13.46" lengthAdjust="spacingAndGlyphs">-1.2</text>
<line x1="302.9" y1="340.5" x2="306.5" y2="340.5" class="tk"/>
<text x="299.8" y="342.8" class="tx" font-size="6.9" text-anchor="end" textLength="13.46" lengthAdjust="spacingAndGlyphs">-1.4</text>
<line x1="302.9" y1="352.5" x2="306.5" y2="352.5" class="tk"/>
<text x="299.8" y="354.8" class="tx" font-size="6.9" text-anchor="end" textLength="13.46" lengthAdjust="spacingAndGlyphs">-1.6</text>
<text x="0" y="0" class="lb" font-size="7.0" text-anchor="middle" textLength="79.84" lengthAdjust="spacingAndGlyphs" transform="translate(281.2,298.5) rotate(-90)">Pipe axial strain (%)</text>
<text x="317.6" y="346" class="lb" font-size="8.0" text-anchor="start" textLength="7.14" lengthAdjust="spacingAndGlyphs">f)</text>
<text x="34.5" y="363.6" class="tx" font-size="6.9" text-anchor="middle" textLength="15.66" lengthAdjust="spacingAndGlyphs">-200</text>
<text x="73.5" y="363.6" class="tx" font-size="6.9" text-anchor="middle" textLength="15.66" lengthAdjust="spacingAndGlyphs">-100</text>
<text x="112.5" y="363.6" class="tx" font-size="6.9" text-anchor="middle" textLength="4.39" lengthAdjust="spacingAndGlyphs">0</text>
<text x="151.5" y="363.6" class="tx" font-size="6.9" text-anchor="middle" textLength="13.17" lengthAdjust="spacingAndGlyphs">100</text>
<text x="190.5" y="363.6" class="tx" font-size="6.9" text-anchor="middle" textLength="13.17" lengthAdjust="spacingAndGlyphs">200</text>
<text x="229.5" y="363.6" class="tx" font-size="6.9" text-anchor="middle" textLength="13.17" lengthAdjust="spacingAndGlyphs">300</text>
<text x="268.5" y="363.6" class="tx" font-size="6.9" text-anchor="middle" textLength="13.17" lengthAdjust="spacingAndGlyphs">400</text>
<text x="152" y="373.9" class="lb" font-size="7.0" text-anchor="middle" textLength="133.07" lengthAdjust="spacingAndGlyphs">Distance from soil block head (m)</text>
<text x="306.5" y="363.6" class="tx" font-size="6.9" text-anchor="middle" textLength="15.66" lengthAdjust="spacingAndGlyphs">-200</text>
<text x="345.5" y="363.6" class="tx" font-size="6.9" text-anchor="middle" textLength="15.66" lengthAdjust="spacingAndGlyphs">-100</text>
<text x="384.5" y="363.6" class="tx" font-size="6.9" text-anchor="middle" textLength="4.39" lengthAdjust="spacingAndGlyphs">0</text>
<text x="423.5" y="363.6" class="tx" font-size="6.9" text-anchor="middle" textLength="13.17" lengthAdjust="spacingAndGlyphs">100</text>
<text x="462.5" y="363.6" class="tx" font-size="6.9" text-anchor="middle" textLength="13.17" lengthAdjust="spacingAndGlyphs">200</text>
<text x="501.5" y="363.6" class="tx" font-size="6.9" text-anchor="middle" textLength="13.17" lengthAdjust="spacingAndGlyphs">300</text>
<text x="540.5" y="363.6" class="tx" font-size="6.9" text-anchor="middle" textLength="13.17" lengthAdjust="spacingAndGlyphs">400</text>
<text x="424" y="373.9" class="lb" font-size="7.0" text-anchor="middle" textLength="133.07" lengthAdjust="spacingAndGlyphs">Distance from soil block head (m)</text>
<rect x="204" y="7" width="63.5" height="48" fill="#fff"/>
<line x1="206" y1="11.8" x2="221.5" y2="11.8" stroke="#1a1ac4" stroke-width="1.0"/>
<rect x="212.45" y="10.55" width="2.5" height="2.5" fill="#1a1aa8" stroke="#10108a" stroke-width="0.5"/>
<text x="227.2" y="14.3" class="tx" font-size="6.9" text-anchor="start" textLength="38.67" lengthAdjust="spacingAndGlyphs">δ = 0.02 m</text>
<line x1="206" y1="19.7" x2="221.5" y2="19.7" stroke="#4e6f82" stroke-width="1.0"/>
<circle cx="213.7" cy="19.7" r="1.7" fill="#9cb0c0" stroke="#34485c" stroke-width="0.9"/>
<text x="227.2" y="22.2" class="tx" font-size="6.9" text-anchor="start" textLength="38.67" lengthAdjust="spacingAndGlyphs">δ = 0.06 m</text>
<line x1="206" y1="27.6" x2="221.5" y2="27.6" stroke="#2f662c" stroke-width="1.0"/>
<rect x="212.45" y="26.35" width="2.5" height="2.5" fill="#23501f" stroke="#1c4518" stroke-width="0.5"/>
<text x="227.2" y="30.1" class="tx" font-size="6.9" text-anchor="start" textLength="38.67" lengthAdjust="spacingAndGlyphs">δ = 0.10 m</text>
<line x1="206" y1="35.5" x2="221.5" y2="35.5" stroke="#5a2d8e" stroke-width="1.0"/>
<path d="M213.7 33.55L215.65 35.5L213.7 37.45L211.75 35.5Z" fill="#8c6cbc" stroke="#43206e" stroke-width="0.7"/>
<text x="227.2" y="38" class="tx" font-size="6.9" text-anchor="start" textLength="38.67" lengthAdjust="spacingAndGlyphs">δ = 0.14 m</text>
<line x1="206" y1="43.4" x2="221.5" y2="43.4" stroke="#c09e7a" stroke-width="1.0"/>
<path d="M212.2 43.4L215.2 43.4M213.7 41.9L213.7 44.9" stroke="#8a7050" stroke-width="1.0"/>
<text x="227.2" y="45.9" class="tx" font-size="6.9" text-anchor="start" textLength="38.67" lengthAdjust="spacingAndGlyphs">δ = 0.18 m</text>
<line x1="206" y1="51.3" x2="221.5" y2="51.3" stroke="#934a28" stroke-width="1.0"/>
<path d="M213.7 49.55L215.36 52.52L212.04 52.52Z" fill="#6a4a1c" stroke="#5a3a18" stroke-width="0.5"/>
<text x="227.2" y="53.8" class="tx" font-size="6.9" text-anchor="start" textLength="38.67" lengthAdjust="spacingAndGlyphs">δ = 0.23 m</text>
</svg></body></html>
